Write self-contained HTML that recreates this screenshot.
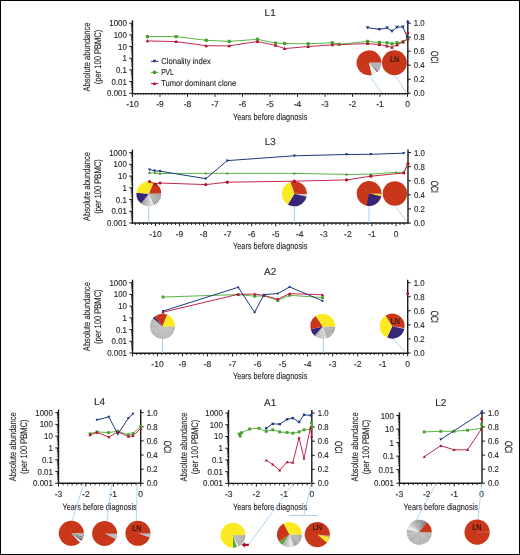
<!DOCTYPE html>
<html><head><meta charset="utf-8"><style>
html,body{margin:0;padding:0;background:#fff;}
svg{display:block;will-change:transform;}
text{font-family:"Liberation Sans",sans-serif;text-rendering:geometricPrecision;stroke:#231f20;stroke-width:0.12px;}
#frame{position:absolute;left:0;top:0;width:518px;height:553px;border:1px solid #000;pointer-events:none;}
</style></head><body>
<div style="position:relative;width:520px;height:555px;overflow:hidden;">
<svg width="520" height="555" viewBox="0 0 520 555" font-family="Liberation Sans">
<rect x="0" y="0" width="520" height="555" fill="#fff"/>
<text x="270.15" y="15.90" font-size="10" text-anchor="middle" fill="#231f20" >L1</text>
<line x1="132.50" y1="20.20" x2="132.50" y2="94.20" stroke="#1a1a1a" stroke-width="1.4" />
<line x1="129.30" y1="23.20" x2="132.50" y2="23.20" stroke="#1a1a1a" stroke-width="1.0" />
<text x="126.90" y="26.20" font-size="8.5" text-anchor="end" fill="#231f20" transform="translate(126.90 26.20) scale(0.93 1) translate(-126.90 -26.20)" >1000</text>
<line x1="130.90" y1="31.35" x2="132.50" y2="31.35" stroke="#1a1a1a" stroke-width="0.7" />
<line x1="130.90" y1="29.30" x2="132.50" y2="29.30" stroke="#1a1a1a" stroke-width="0.7" />
<line x1="130.90" y1="27.84" x2="132.50" y2="27.84" stroke="#1a1a1a" stroke-width="0.7" />
<line x1="130.90" y1="26.71" x2="132.50" y2="26.71" stroke="#1a1a1a" stroke-width="0.7" />
<line x1="130.90" y1="25.79" x2="132.50" y2="25.79" stroke="#1a1a1a" stroke-width="0.7" />
<line x1="130.90" y1="25.01" x2="132.50" y2="25.01" stroke="#1a1a1a" stroke-width="0.7" />
<line x1="130.90" y1="24.33" x2="132.50" y2="24.33" stroke="#1a1a1a" stroke-width="0.7" />
<line x1="130.90" y1="23.73" x2="132.50" y2="23.73" stroke="#1a1a1a" stroke-width="0.7" />
<line x1="129.30" y1="34.87" x2="132.50" y2="34.87" stroke="#1a1a1a" stroke-width="1.0" />
<text x="126.90" y="37.87" font-size="8.5" text-anchor="end" fill="#231f20" transform="translate(126.90 37.87) scale(0.93 1) translate(-126.90 -37.87)" >100</text>
<line x1="130.90" y1="43.02" x2="132.50" y2="43.02" stroke="#1a1a1a" stroke-width="0.7" />
<line x1="130.90" y1="40.97" x2="132.50" y2="40.97" stroke="#1a1a1a" stroke-width="0.7" />
<line x1="130.90" y1="39.51" x2="132.50" y2="39.51" stroke="#1a1a1a" stroke-width="0.7" />
<line x1="130.90" y1="38.38" x2="132.50" y2="38.38" stroke="#1a1a1a" stroke-width="0.7" />
<line x1="130.90" y1="37.45" x2="132.50" y2="37.45" stroke="#1a1a1a" stroke-width="0.7" />
<line x1="130.90" y1="36.67" x2="132.50" y2="36.67" stroke="#1a1a1a" stroke-width="0.7" />
<line x1="130.90" y1="36.00" x2="132.50" y2="36.00" stroke="#1a1a1a" stroke-width="0.7" />
<line x1="130.90" y1="35.40" x2="132.50" y2="35.40" stroke="#1a1a1a" stroke-width="0.7" />
<line x1="129.30" y1="46.53" x2="132.50" y2="46.53" stroke="#1a1a1a" stroke-width="1.0" />
<text x="126.90" y="49.53" font-size="8.5" text-anchor="end" fill="#231f20" transform="translate(126.90 49.53) scale(0.93 1) translate(-126.90 -49.53)" >10</text>
<line x1="130.90" y1="54.69" x2="132.50" y2="54.69" stroke="#1a1a1a" stroke-width="0.7" />
<line x1="130.90" y1="52.63" x2="132.50" y2="52.63" stroke="#1a1a1a" stroke-width="0.7" />
<line x1="130.90" y1="51.18" x2="132.50" y2="51.18" stroke="#1a1a1a" stroke-width="0.7" />
<line x1="130.90" y1="50.05" x2="132.50" y2="50.05" stroke="#1a1a1a" stroke-width="0.7" />
<line x1="130.90" y1="49.12" x2="132.50" y2="49.12" stroke="#1a1a1a" stroke-width="0.7" />
<line x1="130.90" y1="48.34" x2="132.50" y2="48.34" stroke="#1a1a1a" stroke-width="0.7" />
<line x1="130.90" y1="47.66" x2="132.50" y2="47.66" stroke="#1a1a1a" stroke-width="0.7" />
<line x1="130.90" y1="47.07" x2="132.50" y2="47.07" stroke="#1a1a1a" stroke-width="0.7" />
<line x1="129.30" y1="58.20" x2="132.50" y2="58.20" stroke="#1a1a1a" stroke-width="1.0" />
<text x="126.90" y="61.20" font-size="8.5" text-anchor="end" fill="#231f20" transform="translate(126.90 61.20) scale(0.93 1) translate(-126.90 -61.20)" >1</text>
<line x1="130.90" y1="66.35" x2="132.50" y2="66.35" stroke="#1a1a1a" stroke-width="0.7" />
<line x1="130.90" y1="64.30" x2="132.50" y2="64.30" stroke="#1a1a1a" stroke-width="0.7" />
<line x1="130.90" y1="62.84" x2="132.50" y2="62.84" stroke="#1a1a1a" stroke-width="0.7" />
<line x1="130.90" y1="61.71" x2="132.50" y2="61.71" stroke="#1a1a1a" stroke-width="0.7" />
<line x1="130.90" y1="60.79" x2="132.50" y2="60.79" stroke="#1a1a1a" stroke-width="0.7" />
<line x1="130.90" y1="60.01" x2="132.50" y2="60.01" stroke="#1a1a1a" stroke-width="0.7" />
<line x1="130.90" y1="59.33" x2="132.50" y2="59.33" stroke="#1a1a1a" stroke-width="0.7" />
<line x1="130.90" y1="58.73" x2="132.50" y2="58.73" stroke="#1a1a1a" stroke-width="0.7" />
<line x1="129.30" y1="69.87" x2="132.50" y2="69.87" stroke="#1a1a1a" stroke-width="1.0" />
<text x="126.90" y="72.87" font-size="8.5" text-anchor="end" fill="#231f20" transform="translate(126.90 72.87) scale(0.93 1) translate(-126.90 -72.87)" >0.1</text>
<line x1="130.90" y1="78.02" x2="132.50" y2="78.02" stroke="#1a1a1a" stroke-width="0.7" />
<line x1="130.90" y1="75.97" x2="132.50" y2="75.97" stroke="#1a1a1a" stroke-width="0.7" />
<line x1="130.90" y1="74.51" x2="132.50" y2="74.51" stroke="#1a1a1a" stroke-width="0.7" />
<line x1="130.90" y1="73.38" x2="132.50" y2="73.38" stroke="#1a1a1a" stroke-width="0.7" />
<line x1="130.90" y1="72.45" x2="132.50" y2="72.45" stroke="#1a1a1a" stroke-width="0.7" />
<line x1="130.90" y1="71.67" x2="132.50" y2="71.67" stroke="#1a1a1a" stroke-width="0.7" />
<line x1="130.90" y1="71.00" x2="132.50" y2="71.00" stroke="#1a1a1a" stroke-width="0.7" />
<line x1="130.90" y1="70.40" x2="132.50" y2="70.40" stroke="#1a1a1a" stroke-width="0.7" />
<line x1="129.30" y1="81.53" x2="132.50" y2="81.53" stroke="#1a1a1a" stroke-width="1.0" />
<text x="126.90" y="84.53" font-size="8.5" text-anchor="end" fill="#231f20" transform="translate(126.90 84.53) scale(0.93 1) translate(-126.90 -84.53)" >0.01</text>
<line x1="130.90" y1="89.69" x2="132.50" y2="89.69" stroke="#1a1a1a" stroke-width="0.7" />
<line x1="130.90" y1="87.63" x2="132.50" y2="87.63" stroke="#1a1a1a" stroke-width="0.7" />
<line x1="130.90" y1="86.18" x2="132.50" y2="86.18" stroke="#1a1a1a" stroke-width="0.7" />
<line x1="130.90" y1="85.05" x2="132.50" y2="85.05" stroke="#1a1a1a" stroke-width="0.7" />
<line x1="130.90" y1="84.12" x2="132.50" y2="84.12" stroke="#1a1a1a" stroke-width="0.7" />
<line x1="130.90" y1="83.34" x2="132.50" y2="83.34" stroke="#1a1a1a" stroke-width="0.7" />
<line x1="130.90" y1="82.66" x2="132.50" y2="82.66" stroke="#1a1a1a" stroke-width="0.7" />
<line x1="130.90" y1="82.07" x2="132.50" y2="82.07" stroke="#1a1a1a" stroke-width="0.7" />
<line x1="129.30" y1="93.20" x2="132.50" y2="93.20" stroke="#1a1a1a" stroke-width="1.0" />
<text x="126.90" y="96.20" font-size="8.5" text-anchor="end" fill="#231f20" transform="translate(126.90 96.20) scale(0.93 1) translate(-126.90 -96.20)" >0.001</text>
<text x="90.00" y="57.00" font-size="9.6" text-anchor="middle" fill="#231f20" textLength="69" lengthAdjust="spacingAndGlyphs" transform="rotate(-90 90.00 57.00)" >Absolute abundance</text>
<text x="100.70" y="57.00" font-size="9.6" text-anchor="middle" fill="#231f20" textLength="54.5" lengthAdjust="spacingAndGlyphs" transform="rotate(-90 100.70 57.00)" >(per 100 PBMC)</text>
<line x1="407.80" y1="20.20" x2="407.80" y2="94.20" stroke="#1a1a1a" stroke-width="1.4" />
<line x1="407.80" y1="93.20" x2="410.80" y2="93.20" stroke="#1a1a1a" stroke-width="1.0" />
<text x="413.80" y="96.20" font-size="8.5" text-anchor="start" fill="#231f20" transform="translate(413.80 96.20) scale(0.92 1) translate(-413.80 -96.20)" >0.0</text>
<line x1="407.80" y1="79.20" x2="410.80" y2="79.20" stroke="#1a1a1a" stroke-width="1.0" />
<text x="413.80" y="82.20" font-size="8.5" text-anchor="start" fill="#231f20" transform="translate(413.80 82.20) scale(0.92 1) translate(-413.80 -82.20)" >0.2</text>
<line x1="407.80" y1="65.20" x2="410.80" y2="65.20" stroke="#1a1a1a" stroke-width="1.0" />
<text x="413.80" y="68.20" font-size="8.5" text-anchor="start" fill="#231f20" transform="translate(413.80 68.20) scale(0.92 1) translate(-413.80 -68.20)" >0.4</text>
<line x1="407.80" y1="51.20" x2="410.80" y2="51.20" stroke="#1a1a1a" stroke-width="1.0" />
<text x="413.80" y="54.20" font-size="8.5" text-anchor="start" fill="#231f20" transform="translate(413.80 54.20) scale(0.92 1) translate(-413.80 -54.20)" >0.6</text>
<line x1="407.80" y1="37.20" x2="410.80" y2="37.20" stroke="#1a1a1a" stroke-width="1.0" />
<text x="413.80" y="40.20" font-size="8.5" text-anchor="start" fill="#231f20" transform="translate(413.80 40.20) scale(0.92 1) translate(-413.80 -40.20)" >0.8</text>
<line x1="407.80" y1="23.20" x2="410.80" y2="23.20" stroke="#1a1a1a" stroke-width="1.0" />
<text x="413.80" y="26.20" font-size="8.5" text-anchor="start" fill="#231f20" transform="translate(413.80 26.20) scale(0.92 1) translate(-413.80 -26.20)" >1.0</text>
<text x="430.80" y="57.20" font-size="10.6" text-anchor="middle" fill="#231f20" textLength="12.3" lengthAdjust="spacingAndGlyphs" transform="rotate(90 430.80 57.20)" >OCI</text>
<line x1="131.80" y1="93.60" x2="408.50" y2="93.60" stroke="#1a1a1a" stroke-width="1.4" />
<line x1="132.50" y1="93.60" x2="132.50" y2="96.80" stroke="#1a1a1a" stroke-width="1.0" />
<text x="132.50" y="106.90" font-size="8.5" text-anchor="middle" fill="#231f20" >-10</text>
<line x1="160.00" y1="93.60" x2="160.00" y2="96.80" stroke="#1a1a1a" stroke-width="1.0" />
<text x="160.00" y="106.90" font-size="8.5" text-anchor="middle" fill="#231f20" >-9</text>
<line x1="187.50" y1="93.60" x2="187.50" y2="96.80" stroke="#1a1a1a" stroke-width="1.0" />
<text x="187.50" y="106.90" font-size="8.5" text-anchor="middle" fill="#231f20" >-8</text>
<line x1="215.00" y1="93.60" x2="215.00" y2="96.80" stroke="#1a1a1a" stroke-width="1.0" />
<text x="215.00" y="106.90" font-size="8.5" text-anchor="middle" fill="#231f20" >-7</text>
<line x1="242.50" y1="93.60" x2="242.50" y2="96.80" stroke="#1a1a1a" stroke-width="1.0" />
<text x="242.50" y="106.90" font-size="8.5" text-anchor="middle" fill="#231f20" >-6</text>
<line x1="270.00" y1="93.60" x2="270.00" y2="96.80" stroke="#1a1a1a" stroke-width="1.0" />
<text x="270.00" y="106.90" font-size="8.5" text-anchor="middle" fill="#231f20" >-5</text>
<line x1="297.50" y1="93.60" x2="297.50" y2="96.80" stroke="#1a1a1a" stroke-width="1.0" />
<text x="297.50" y="106.90" font-size="8.5" text-anchor="middle" fill="#231f20" >-4</text>
<line x1="325.00" y1="93.60" x2="325.00" y2="96.80" stroke="#1a1a1a" stroke-width="1.0" />
<text x="325.00" y="106.90" font-size="8.5" text-anchor="middle" fill="#231f20" >-3</text>
<line x1="352.50" y1="93.60" x2="352.50" y2="96.80" stroke="#1a1a1a" stroke-width="1.0" />
<text x="352.50" y="106.90" font-size="8.5" text-anchor="middle" fill="#231f20" >-2</text>
<line x1="380.00" y1="93.60" x2="380.00" y2="96.80" stroke="#1a1a1a" stroke-width="1.0" />
<text x="380.00" y="106.90" font-size="8.5" text-anchor="middle" fill="#231f20" >-1</text>
<line x1="407.50" y1="93.60" x2="407.50" y2="96.80" stroke="#1a1a1a" stroke-width="1.0" />
<text x="407.50" y="106.90" font-size="8.5" text-anchor="middle" fill="#231f20" >0</text>
<line x1="135.25" y1="93.60" x2="135.25" y2="95.10" stroke="#1a1a1a" stroke-width="0.7" />
<line x1="138.00" y1="93.60" x2="138.00" y2="95.10" stroke="#1a1a1a" stroke-width="0.7" />
<line x1="140.75" y1="93.60" x2="140.75" y2="95.10" stroke="#1a1a1a" stroke-width="0.7" />
<line x1="143.50" y1="93.60" x2="143.50" y2="95.10" stroke="#1a1a1a" stroke-width="0.7" />
<line x1="146.25" y1="93.60" x2="146.25" y2="95.10" stroke="#1a1a1a" stroke-width="0.7" />
<line x1="149.00" y1="93.60" x2="149.00" y2="95.10" stroke="#1a1a1a" stroke-width="0.7" />
<line x1="151.75" y1="93.60" x2="151.75" y2="95.10" stroke="#1a1a1a" stroke-width="0.7" />
<line x1="154.50" y1="93.60" x2="154.50" y2="95.10" stroke="#1a1a1a" stroke-width="0.7" />
<line x1="157.25" y1="93.60" x2="157.25" y2="95.10" stroke="#1a1a1a" stroke-width="0.7" />
<line x1="162.75" y1="93.60" x2="162.75" y2="95.10" stroke="#1a1a1a" stroke-width="0.7" />
<line x1="165.50" y1="93.60" x2="165.50" y2="95.10" stroke="#1a1a1a" stroke-width="0.7" />
<line x1="168.25" y1="93.60" x2="168.25" y2="95.10" stroke="#1a1a1a" stroke-width="0.7" />
<line x1="171.00" y1="93.60" x2="171.00" y2="95.10" stroke="#1a1a1a" stroke-width="0.7" />
<line x1="173.75" y1="93.60" x2="173.75" y2="95.10" stroke="#1a1a1a" stroke-width="0.7" />
<line x1="176.50" y1="93.60" x2="176.50" y2="95.10" stroke="#1a1a1a" stroke-width="0.7" />
<line x1="179.25" y1="93.60" x2="179.25" y2="95.10" stroke="#1a1a1a" stroke-width="0.7" />
<line x1="182.00" y1="93.60" x2="182.00" y2="95.10" stroke="#1a1a1a" stroke-width="0.7" />
<line x1="184.75" y1="93.60" x2="184.75" y2="95.10" stroke="#1a1a1a" stroke-width="0.7" />
<line x1="190.25" y1="93.60" x2="190.25" y2="95.10" stroke="#1a1a1a" stroke-width="0.7" />
<line x1="193.00" y1="93.60" x2="193.00" y2="95.10" stroke="#1a1a1a" stroke-width="0.7" />
<line x1="195.75" y1="93.60" x2="195.75" y2="95.10" stroke="#1a1a1a" stroke-width="0.7" />
<line x1="198.50" y1="93.60" x2="198.50" y2="95.10" stroke="#1a1a1a" stroke-width="0.7" />
<line x1="201.25" y1="93.60" x2="201.25" y2="95.10" stroke="#1a1a1a" stroke-width="0.7" />
<line x1="204.00" y1="93.60" x2="204.00" y2="95.10" stroke="#1a1a1a" stroke-width="0.7" />
<line x1="206.75" y1="93.60" x2="206.75" y2="95.10" stroke="#1a1a1a" stroke-width="0.7" />
<line x1="209.50" y1="93.60" x2="209.50" y2="95.10" stroke="#1a1a1a" stroke-width="0.7" />
<line x1="212.25" y1="93.60" x2="212.25" y2="95.10" stroke="#1a1a1a" stroke-width="0.7" />
<line x1="217.75" y1="93.60" x2="217.75" y2="95.10" stroke="#1a1a1a" stroke-width="0.7" />
<line x1="220.50" y1="93.60" x2="220.50" y2="95.10" stroke="#1a1a1a" stroke-width="0.7" />
<line x1="223.25" y1="93.60" x2="223.25" y2="95.10" stroke="#1a1a1a" stroke-width="0.7" />
<line x1="226.00" y1="93.60" x2="226.00" y2="95.10" stroke="#1a1a1a" stroke-width="0.7" />
<line x1="228.75" y1="93.60" x2="228.75" y2="95.10" stroke="#1a1a1a" stroke-width="0.7" />
<line x1="231.50" y1="93.60" x2="231.50" y2="95.10" stroke="#1a1a1a" stroke-width="0.7" />
<line x1="234.25" y1="93.60" x2="234.25" y2="95.10" stroke="#1a1a1a" stroke-width="0.7" />
<line x1="237.00" y1="93.60" x2="237.00" y2="95.10" stroke="#1a1a1a" stroke-width="0.7" />
<line x1="239.75" y1="93.60" x2="239.75" y2="95.10" stroke="#1a1a1a" stroke-width="0.7" />
<line x1="245.25" y1="93.60" x2="245.25" y2="95.10" stroke="#1a1a1a" stroke-width="0.7" />
<line x1="248.00" y1="93.60" x2="248.00" y2="95.10" stroke="#1a1a1a" stroke-width="0.7" />
<line x1="250.75" y1="93.60" x2="250.75" y2="95.10" stroke="#1a1a1a" stroke-width="0.7" />
<line x1="253.50" y1="93.60" x2="253.50" y2="95.10" stroke="#1a1a1a" stroke-width="0.7" />
<line x1="256.25" y1="93.60" x2="256.25" y2="95.10" stroke="#1a1a1a" stroke-width="0.7" />
<line x1="259.00" y1="93.60" x2="259.00" y2="95.10" stroke="#1a1a1a" stroke-width="0.7" />
<line x1="261.75" y1="93.60" x2="261.75" y2="95.10" stroke="#1a1a1a" stroke-width="0.7" />
<line x1="264.50" y1="93.60" x2="264.50" y2="95.10" stroke="#1a1a1a" stroke-width="0.7" />
<line x1="267.25" y1="93.60" x2="267.25" y2="95.10" stroke="#1a1a1a" stroke-width="0.7" />
<line x1="272.75" y1="93.60" x2="272.75" y2="95.10" stroke="#1a1a1a" stroke-width="0.7" />
<line x1="275.50" y1="93.60" x2="275.50" y2="95.10" stroke="#1a1a1a" stroke-width="0.7" />
<line x1="278.25" y1="93.60" x2="278.25" y2="95.10" stroke="#1a1a1a" stroke-width="0.7" />
<line x1="281.00" y1="93.60" x2="281.00" y2="95.10" stroke="#1a1a1a" stroke-width="0.7" />
<line x1="283.75" y1="93.60" x2="283.75" y2="95.10" stroke="#1a1a1a" stroke-width="0.7" />
<line x1="286.50" y1="93.60" x2="286.50" y2="95.10" stroke="#1a1a1a" stroke-width="0.7" />
<line x1="289.25" y1="93.60" x2="289.25" y2="95.10" stroke="#1a1a1a" stroke-width="0.7" />
<line x1="292.00" y1="93.60" x2="292.00" y2="95.10" stroke="#1a1a1a" stroke-width="0.7" />
<line x1="294.75" y1="93.60" x2="294.75" y2="95.10" stroke="#1a1a1a" stroke-width="0.7" />
<line x1="300.25" y1="93.60" x2="300.25" y2="95.10" stroke="#1a1a1a" stroke-width="0.7" />
<line x1="303.00" y1="93.60" x2="303.00" y2="95.10" stroke="#1a1a1a" stroke-width="0.7" />
<line x1="305.75" y1="93.60" x2="305.75" y2="95.10" stroke="#1a1a1a" stroke-width="0.7" />
<line x1="308.50" y1="93.60" x2="308.50" y2="95.10" stroke="#1a1a1a" stroke-width="0.7" />
<line x1="311.25" y1="93.60" x2="311.25" y2="95.10" stroke="#1a1a1a" stroke-width="0.7" />
<line x1="314.00" y1="93.60" x2="314.00" y2="95.10" stroke="#1a1a1a" stroke-width="0.7" />
<line x1="316.75" y1="93.60" x2="316.75" y2="95.10" stroke="#1a1a1a" stroke-width="0.7" />
<line x1="319.50" y1="93.60" x2="319.50" y2="95.10" stroke="#1a1a1a" stroke-width="0.7" />
<line x1="322.25" y1="93.60" x2="322.25" y2="95.10" stroke="#1a1a1a" stroke-width="0.7" />
<line x1="327.75" y1="93.60" x2="327.75" y2="95.10" stroke="#1a1a1a" stroke-width="0.7" />
<line x1="330.50" y1="93.60" x2="330.50" y2="95.10" stroke="#1a1a1a" stroke-width="0.7" />
<line x1="333.25" y1="93.60" x2="333.25" y2="95.10" stroke="#1a1a1a" stroke-width="0.7" />
<line x1="336.00" y1="93.60" x2="336.00" y2="95.10" stroke="#1a1a1a" stroke-width="0.7" />
<line x1="338.75" y1="93.60" x2="338.75" y2="95.10" stroke="#1a1a1a" stroke-width="0.7" />
<line x1="341.50" y1="93.60" x2="341.50" y2="95.10" stroke="#1a1a1a" stroke-width="0.7" />
<line x1="344.25" y1="93.60" x2="344.25" y2="95.10" stroke="#1a1a1a" stroke-width="0.7" />
<line x1="347.00" y1="93.60" x2="347.00" y2="95.10" stroke="#1a1a1a" stroke-width="0.7" />
<line x1="349.75" y1="93.60" x2="349.75" y2="95.10" stroke="#1a1a1a" stroke-width="0.7" />
<line x1="355.25" y1="93.60" x2="355.25" y2="95.10" stroke="#1a1a1a" stroke-width="0.7" />
<line x1="358.00" y1="93.60" x2="358.00" y2="95.10" stroke="#1a1a1a" stroke-width="0.7" />
<line x1="360.75" y1="93.60" x2="360.75" y2="95.10" stroke="#1a1a1a" stroke-width="0.7" />
<line x1="363.50" y1="93.60" x2="363.50" y2="95.10" stroke="#1a1a1a" stroke-width="0.7" />
<line x1="366.25" y1="93.60" x2="366.25" y2="95.10" stroke="#1a1a1a" stroke-width="0.7" />
<line x1="369.00" y1="93.60" x2="369.00" y2="95.10" stroke="#1a1a1a" stroke-width="0.7" />
<line x1="371.75" y1="93.60" x2="371.75" y2="95.10" stroke="#1a1a1a" stroke-width="0.7" />
<line x1="374.50" y1="93.60" x2="374.50" y2="95.10" stroke="#1a1a1a" stroke-width="0.7" />
<line x1="377.25" y1="93.60" x2="377.25" y2="95.10" stroke="#1a1a1a" stroke-width="0.7" />
<line x1="382.75" y1="93.60" x2="382.75" y2="95.10" stroke="#1a1a1a" stroke-width="0.7" />
<line x1="385.50" y1="93.60" x2="385.50" y2="95.10" stroke="#1a1a1a" stroke-width="0.7" />
<line x1="388.25" y1="93.60" x2="388.25" y2="95.10" stroke="#1a1a1a" stroke-width="0.7" />
<line x1="391.00" y1="93.60" x2="391.00" y2="95.10" stroke="#1a1a1a" stroke-width="0.7" />
<line x1="393.75" y1="93.60" x2="393.75" y2="95.10" stroke="#1a1a1a" stroke-width="0.7" />
<line x1="396.50" y1="93.60" x2="396.50" y2="95.10" stroke="#1a1a1a" stroke-width="0.7" />
<line x1="399.25" y1="93.60" x2="399.25" y2="95.10" stroke="#1a1a1a" stroke-width="0.7" />
<line x1="402.00" y1="93.60" x2="402.00" y2="95.10" stroke="#1a1a1a" stroke-width="0.7" />
<line x1="404.75" y1="93.60" x2="404.75" y2="95.10" stroke="#1a1a1a" stroke-width="0.7" />
<text x="270.15" y="119.60" font-size="9.2" text-anchor="middle" fill="#231f20" textLength="74.3" lengthAdjust="spacingAndGlyphs" >Years before diagnosis</text>
<line x1="150.90" y1="61.30" x2="158.40" y2="61.30" stroke="#1c3a7e" stroke-width="1.0" />
<path d="M154.50,63.10L156.30,59.86L152.70,59.86Z" fill="#1c3a7e"/>
<text x="161.20" y="64.20" font-size="8.6" text-anchor="start" fill="#231f20" textLength="49.7" lengthAdjust="spacingAndGlyphs" >Clonality index</text>
<line x1="150.90" y1="72.40" x2="158.40" y2="72.40" stroke="#5cb546" stroke-width="1.0" />
<rect x="152.90" y="70.80" width="3.20" height="3.20" fill="#4aa02e"/>
<text x="161.20" y="75.30" font-size="8.6" text-anchor="start" fill="#231f20" textLength="12.5" lengthAdjust="spacingAndGlyphs" >PVL</text>
<line x1="150.90" y1="83.50" x2="158.40" y2="83.50" stroke="#c4284f" stroke-width="1.0" />
<path d="M154.50,81.70L156.30,84.94L152.70,84.94Z" fill="#b0102c"/>
<text x="161.20" y="86.40" font-size="8.6" text-anchor="start" fill="#231f20" textLength="75" lengthAdjust="spacingAndGlyphs" >Tumor dominant clone</text>
<line x1="369.00" y1="75.20" x2="381.70" y2="92.90" stroke="#9ccbef" stroke-width="0.8" />
<line x1="395.00" y1="75.20" x2="406.30" y2="92.90" stroke="#9ccbef" stroke-width="0.8" />
<path d="M369.00,62.80L372.01,74.88A12.45,12.45 0 1 1 381.45,62.80Z" fill="#c83719"/>
<path d="M369.00,62.80L381.45,62.80A12.45,12.45 0 0 1 377.80,71.60Z" fill="#b4b4b4"/>
<path d="M369.00,62.80L377.80,71.60A12.45,12.45 0 0 1 377.00,72.34Z" fill="#3a3a3a"/>
<path d="M369.00,62.80L377.00,72.34A12.45,12.45 0 0 1 372.01,74.88Z" fill="#ececec"/>
<circle cx="394.40" cy="62.80" r="12.45" fill="#c83719"/>
<text x="394.60" y="61.80" font-size="8.4" text-anchor="middle" fill="#1a0a05" transform="translate(394.60 61.80) scale(0.86 1) translate(-394.60 -61.80)" >LN</text>
<polyline points="147.40,36.60 176.10,36.60 206.20,40.30 229.20,41.40 257.40,39.30 275.60,43.10 284.60,43.50 308.20,43.80 332.30,42.80 339.20,44.30 367.60,41.40 379.40,42.50 387.00,42.80 392.00,43.80 397.00,42.80 403.00,41.80 407.80,38.80" fill="none" stroke="#5cb546" stroke-width="1.0" stroke-linejoin="round"/>
<rect x="145.80" y="35.00" width="3.20" height="3.20" fill="#4aa02e"/>
<rect x="174.50" y="35.00" width="3.20" height="3.20" fill="#4aa02e"/>
<rect x="204.60" y="38.70" width="3.20" height="3.20" fill="#4aa02e"/>
<rect x="227.60" y="39.80" width="3.20" height="3.20" fill="#4aa02e"/>
<rect x="255.80" y="37.70" width="3.20" height="3.20" fill="#4aa02e"/>
<rect x="274.00" y="41.50" width="3.20" height="3.20" fill="#4aa02e"/>
<rect x="283.00" y="41.90" width="3.20" height="3.20" fill="#4aa02e"/>
<rect x="306.60" y="42.20" width="3.20" height="3.20" fill="#4aa02e"/>
<rect x="330.70" y="41.20" width="3.20" height="3.20" fill="#4aa02e"/>
<rect x="337.60" y="42.70" width="3.20" height="3.20" fill="#4aa02e"/>
<rect x="366.00" y="39.80" width="3.20" height="3.20" fill="#4aa02e"/>
<rect x="377.80" y="40.90" width="3.20" height="3.20" fill="#4aa02e"/>
<rect x="385.40" y="41.20" width="3.20" height="3.20" fill="#4aa02e"/>
<rect x="390.40" y="42.20" width="3.20" height="3.20" fill="#4aa02e"/>
<rect x="395.40" y="41.20" width="3.20" height="3.20" fill="#4aa02e"/>
<rect x="401.40" y="40.20" width="3.20" height="3.20" fill="#4aa02e"/>
<rect x="406.20" y="37.20" width="3.20" height="3.20" fill="#4aa02e"/>
<polyline points="147.40,40.90 176.10,41.60 206.20,45.70 229.20,45.90 257.40,41.50 275.60,45.40 284.60,48.60 308.20,46.50 332.30,44.90 367.60,43.60 379.40,44.50 387.00,46.00 392.00,47.30 397.00,44.80 403.00,41.80 407.80,38.80" fill="none" stroke="#c4284f" stroke-width="1.0" stroke-linejoin="round"/>
<path d="M147.40,39.10L149.20,42.34L145.60,42.34Z" fill="#b0102c"/>
<path d="M176.10,39.80L177.90,43.04L174.30,43.04Z" fill="#b0102c"/>
<path d="M206.20,43.90L208.00,47.14L204.40,47.14Z" fill="#b0102c"/>
<path d="M229.20,44.10L231.00,47.34L227.40,47.34Z" fill="#b0102c"/>
<path d="M257.40,39.70L259.20,42.94L255.60,42.94Z" fill="#b0102c"/>
<path d="M275.60,43.60L277.40,46.84L273.80,46.84Z" fill="#b0102c"/>
<path d="M284.60,46.80L286.40,50.04L282.80,50.04Z" fill="#b0102c"/>
<path d="M308.20,44.70L310.00,47.94L306.40,47.94Z" fill="#b0102c"/>
<path d="M332.30,43.10L334.10,46.34L330.50,46.34Z" fill="#b0102c"/>
<path d="M367.60,41.80L369.40,45.04L365.80,45.04Z" fill="#b0102c"/>
<path d="M379.40,42.70L381.20,45.94L377.60,45.94Z" fill="#b0102c"/>
<path d="M387.00,44.20L388.80,47.44L385.20,47.44Z" fill="#b0102c"/>
<path d="M392.00,45.50L393.80,48.74L390.20,48.74Z" fill="#b0102c"/>
<path d="M397.00,43.00L398.80,46.24L395.20,46.24Z" fill="#b0102c"/>
<path d="M403.00,40.00L404.80,43.24L401.20,43.24Z" fill="#b0102c"/>
<path d="M407.80,37.00L409.60,40.24L406.00,40.24Z" fill="#b0102c"/>
<circle cx="407.80" cy="33.00" r="1.44" fill="#b0102c"/>
<polyline points="367.60,27.70 379.30,29.40 387.10,27.90 392.00,31.20 397.00,27.20 402.90,26.90 407.30,37.40" fill="none" stroke="#1c3a7e" stroke-width="1.0" stroke-linejoin="round"/>
<path d="M367.60,29.50L369.40,26.26L365.80,26.26Z" fill="#1c3a7e"/>
<path d="M379.30,31.20L381.10,27.96L377.50,27.96Z" fill="#1c3a7e"/>
<path d="M387.10,29.70L388.90,26.46L385.30,26.46Z" fill="#1c3a7e"/>
<path d="M392.00,33.00L393.80,29.76L390.20,29.76Z" fill="#1c3a7e"/>
<path d="M397.00,29.00L398.80,25.76L395.20,25.76Z" fill="#1c3a7e"/>
<path d="M402.90,28.70L404.70,25.46L401.10,25.46Z" fill="#1c3a7e"/>
<path d="M407.30,39.20L409.10,35.96L405.50,35.96Z" fill="#1c3a7e"/>
<path d="M407.80,24.40L409.60,21.16L406.00,21.16Z" fill="#1c3a7e"/>
<text x="270.20" y="145.30" font-size="10" text-anchor="middle" fill="#231f20" >L3</text>
<line x1="132.40" y1="149.60" x2="132.40" y2="223.60" stroke="#1a1a1a" stroke-width="1.4" />
<line x1="129.20" y1="152.60" x2="132.40" y2="152.60" stroke="#1a1a1a" stroke-width="1.0" />
<text x="126.80" y="155.60" font-size="8.5" text-anchor="end" fill="#231f20" transform="translate(126.80 155.60) scale(0.93 1) translate(-126.80 -155.60)" >1000</text>
<line x1="130.80" y1="160.80" x2="132.40" y2="160.80" stroke="#1a1a1a" stroke-width="0.7" />
<line x1="130.80" y1="158.74" x2="132.40" y2="158.74" stroke="#1a1a1a" stroke-width="0.7" />
<line x1="130.80" y1="157.27" x2="132.40" y2="157.27" stroke="#1a1a1a" stroke-width="0.7" />
<line x1="130.80" y1="156.13" x2="132.40" y2="156.13" stroke="#1a1a1a" stroke-width="0.7" />
<line x1="130.80" y1="155.20" x2="132.40" y2="155.20" stroke="#1a1a1a" stroke-width="0.7" />
<line x1="130.80" y1="154.42" x2="132.40" y2="154.42" stroke="#1a1a1a" stroke-width="0.7" />
<line x1="130.80" y1="153.74" x2="132.40" y2="153.74" stroke="#1a1a1a" stroke-width="0.7" />
<line x1="130.80" y1="153.14" x2="132.40" y2="153.14" stroke="#1a1a1a" stroke-width="0.7" />
<line x1="129.20" y1="164.33" x2="132.40" y2="164.33" stroke="#1a1a1a" stroke-width="1.0" />
<text x="126.80" y="167.33" font-size="8.5" text-anchor="end" fill="#231f20" transform="translate(126.80 167.33) scale(0.93 1) translate(-126.80 -167.33)" >100</text>
<line x1="130.80" y1="172.53" x2="132.40" y2="172.53" stroke="#1a1a1a" stroke-width="0.7" />
<line x1="130.80" y1="170.47" x2="132.40" y2="170.47" stroke="#1a1a1a" stroke-width="0.7" />
<line x1="130.80" y1="169.00" x2="132.40" y2="169.00" stroke="#1a1a1a" stroke-width="0.7" />
<line x1="130.80" y1="167.87" x2="132.40" y2="167.87" stroke="#1a1a1a" stroke-width="0.7" />
<line x1="130.80" y1="166.94" x2="132.40" y2="166.94" stroke="#1a1a1a" stroke-width="0.7" />
<line x1="130.80" y1="166.15" x2="132.40" y2="166.15" stroke="#1a1a1a" stroke-width="0.7" />
<line x1="130.80" y1="165.47" x2="132.40" y2="165.47" stroke="#1a1a1a" stroke-width="0.7" />
<line x1="130.80" y1="164.87" x2="132.40" y2="164.87" stroke="#1a1a1a" stroke-width="0.7" />
<line x1="129.20" y1="176.07" x2="132.40" y2="176.07" stroke="#1a1a1a" stroke-width="1.0" />
<text x="126.80" y="179.07" font-size="8.5" text-anchor="end" fill="#231f20" transform="translate(126.80 179.07) scale(0.93 1) translate(-126.80 -179.07)" >10</text>
<line x1="130.80" y1="184.27" x2="132.40" y2="184.27" stroke="#1a1a1a" stroke-width="0.7" />
<line x1="130.80" y1="182.20" x2="132.40" y2="182.20" stroke="#1a1a1a" stroke-width="0.7" />
<line x1="130.80" y1="180.74" x2="132.40" y2="180.74" stroke="#1a1a1a" stroke-width="0.7" />
<line x1="130.80" y1="179.60" x2="132.40" y2="179.60" stroke="#1a1a1a" stroke-width="0.7" />
<line x1="130.80" y1="178.67" x2="132.40" y2="178.67" stroke="#1a1a1a" stroke-width="0.7" />
<line x1="130.80" y1="177.88" x2="132.40" y2="177.88" stroke="#1a1a1a" stroke-width="0.7" />
<line x1="130.80" y1="177.20" x2="132.40" y2="177.20" stroke="#1a1a1a" stroke-width="0.7" />
<line x1="130.80" y1="176.60" x2="132.40" y2="176.60" stroke="#1a1a1a" stroke-width="0.7" />
<line x1="129.20" y1="187.80" x2="132.40" y2="187.80" stroke="#1a1a1a" stroke-width="1.0" />
<text x="126.80" y="190.80" font-size="8.5" text-anchor="end" fill="#231f20" transform="translate(126.80 190.80) scale(0.93 1) translate(-126.80 -190.80)" >1</text>
<line x1="130.80" y1="196.00" x2="132.40" y2="196.00" stroke="#1a1a1a" stroke-width="0.7" />
<line x1="130.80" y1="193.94" x2="132.40" y2="193.94" stroke="#1a1a1a" stroke-width="0.7" />
<line x1="130.80" y1="192.47" x2="132.40" y2="192.47" stroke="#1a1a1a" stroke-width="0.7" />
<line x1="130.80" y1="191.33" x2="132.40" y2="191.33" stroke="#1a1a1a" stroke-width="0.7" />
<line x1="130.80" y1="190.40" x2="132.40" y2="190.40" stroke="#1a1a1a" stroke-width="0.7" />
<line x1="130.80" y1="189.62" x2="132.40" y2="189.62" stroke="#1a1a1a" stroke-width="0.7" />
<line x1="130.80" y1="188.94" x2="132.40" y2="188.94" stroke="#1a1a1a" stroke-width="0.7" />
<line x1="130.80" y1="188.34" x2="132.40" y2="188.34" stroke="#1a1a1a" stroke-width="0.7" />
<line x1="129.20" y1="199.53" x2="132.40" y2="199.53" stroke="#1a1a1a" stroke-width="1.0" />
<text x="126.80" y="202.53" font-size="8.5" text-anchor="end" fill="#231f20" transform="translate(126.80 202.53) scale(0.93 1) translate(-126.80 -202.53)" >0.1</text>
<line x1="130.80" y1="207.73" x2="132.40" y2="207.73" stroke="#1a1a1a" stroke-width="0.7" />
<line x1="130.80" y1="205.67" x2="132.40" y2="205.67" stroke="#1a1a1a" stroke-width="0.7" />
<line x1="130.80" y1="204.20" x2="132.40" y2="204.20" stroke="#1a1a1a" stroke-width="0.7" />
<line x1="130.80" y1="203.07" x2="132.40" y2="203.07" stroke="#1a1a1a" stroke-width="0.7" />
<line x1="130.80" y1="202.14" x2="132.40" y2="202.14" stroke="#1a1a1a" stroke-width="0.7" />
<line x1="130.80" y1="201.35" x2="132.40" y2="201.35" stroke="#1a1a1a" stroke-width="0.7" />
<line x1="130.80" y1="200.67" x2="132.40" y2="200.67" stroke="#1a1a1a" stroke-width="0.7" />
<line x1="130.80" y1="200.07" x2="132.40" y2="200.07" stroke="#1a1a1a" stroke-width="0.7" />
<line x1="129.20" y1="211.27" x2="132.40" y2="211.27" stroke="#1a1a1a" stroke-width="1.0" />
<text x="126.80" y="214.27" font-size="8.5" text-anchor="end" fill="#231f20" transform="translate(126.80 214.27) scale(0.93 1) translate(-126.80 -214.27)" >0.01</text>
<line x1="130.80" y1="219.47" x2="132.40" y2="219.47" stroke="#1a1a1a" stroke-width="0.7" />
<line x1="130.80" y1="217.40" x2="132.40" y2="217.40" stroke="#1a1a1a" stroke-width="0.7" />
<line x1="130.80" y1="215.94" x2="132.40" y2="215.94" stroke="#1a1a1a" stroke-width="0.7" />
<line x1="130.80" y1="214.80" x2="132.40" y2="214.80" stroke="#1a1a1a" stroke-width="0.7" />
<line x1="130.80" y1="213.87" x2="132.40" y2="213.87" stroke="#1a1a1a" stroke-width="0.7" />
<line x1="130.80" y1="213.08" x2="132.40" y2="213.08" stroke="#1a1a1a" stroke-width="0.7" />
<line x1="130.80" y1="212.40" x2="132.40" y2="212.40" stroke="#1a1a1a" stroke-width="0.7" />
<line x1="130.80" y1="211.80" x2="132.40" y2="211.80" stroke="#1a1a1a" stroke-width="0.7" />
<line x1="129.20" y1="223.00" x2="132.40" y2="223.00" stroke="#1a1a1a" stroke-width="1.0" />
<text x="126.80" y="226.00" font-size="8.5" text-anchor="end" fill="#231f20" transform="translate(126.80 226.00) scale(0.93 1) translate(-126.80 -226.00)" >0.001</text>
<text x="89.90" y="186.60" font-size="9.6" text-anchor="middle" fill="#231f20" textLength="69" lengthAdjust="spacingAndGlyphs" transform="rotate(-90 89.90 186.60)" >Absolute abundance</text>
<text x="100.60" y="186.60" font-size="9.6" text-anchor="middle" fill="#231f20" textLength="54.5" lengthAdjust="spacingAndGlyphs" transform="rotate(-90 100.60 186.60)" >(per 100 PBMC)</text>
<line x1="408.00" y1="149.60" x2="408.00" y2="223.60" stroke="#1a1a1a" stroke-width="1.4" />
<line x1="408.00" y1="223.00" x2="411.00" y2="223.00" stroke="#1a1a1a" stroke-width="1.0" />
<text x="414.00" y="226.00" font-size="8.5" text-anchor="start" fill="#231f20" transform="translate(414.00 226.00) scale(0.92 1) translate(-414.00 -226.00)" >0.0</text>
<line x1="408.00" y1="208.92" x2="411.00" y2="208.92" stroke="#1a1a1a" stroke-width="1.0" />
<text x="414.00" y="211.92" font-size="8.5" text-anchor="start" fill="#231f20" transform="translate(414.00 211.92) scale(0.92 1) translate(-414.00 -211.92)" >0.2</text>
<line x1="408.00" y1="194.84" x2="411.00" y2="194.84" stroke="#1a1a1a" stroke-width="1.0" />
<text x="414.00" y="197.84" font-size="8.5" text-anchor="start" fill="#231f20" transform="translate(414.00 197.84) scale(0.92 1) translate(-414.00 -197.84)" >0.4</text>
<line x1="408.00" y1="180.76" x2="411.00" y2="180.76" stroke="#1a1a1a" stroke-width="1.0" />
<text x="414.00" y="183.76" font-size="8.5" text-anchor="start" fill="#231f20" transform="translate(414.00 183.76) scale(0.92 1) translate(-414.00 -183.76)" >0.6</text>
<line x1="408.00" y1="166.68" x2="411.00" y2="166.68" stroke="#1a1a1a" stroke-width="1.0" />
<text x="414.00" y="169.68" font-size="8.5" text-anchor="start" fill="#231f20" transform="translate(414.00 169.68) scale(0.92 1) translate(-414.00 -169.68)" >0.8</text>
<line x1="408.00" y1="152.60" x2="411.00" y2="152.60" stroke="#1a1a1a" stroke-width="1.0" />
<text x="414.00" y="155.60" font-size="8.5" text-anchor="start" fill="#231f20" transform="translate(414.00 155.60) scale(0.92 1) translate(-414.00 -155.60)" >1.0</text>
<text x="431.00" y="186.80" font-size="10.6" text-anchor="middle" fill="#231f20" textLength="12.3" lengthAdjust="spacingAndGlyphs" transform="rotate(90 431.00 186.80)" >OCI</text>
<line x1="131.70" y1="223.00" x2="408.70" y2="223.00" stroke="#1a1a1a" stroke-width="1.4" />
<line x1="155.50" y1="223.00" x2="155.50" y2="226.20" stroke="#1a1a1a" stroke-width="1.0" />
<text x="155.50" y="236.70" font-size="8.5" text-anchor="middle" fill="#231f20" >-10</text>
<line x1="179.55" y1="223.00" x2="179.55" y2="226.20" stroke="#1a1a1a" stroke-width="1.0" />
<text x="179.55" y="236.70" font-size="8.5" text-anchor="middle" fill="#231f20" >-9</text>
<line x1="203.60" y1="223.00" x2="203.60" y2="226.20" stroke="#1a1a1a" stroke-width="1.0" />
<text x="203.60" y="236.70" font-size="8.5" text-anchor="middle" fill="#231f20" >-8</text>
<line x1="227.65" y1="223.00" x2="227.65" y2="226.20" stroke="#1a1a1a" stroke-width="1.0" />
<text x="227.65" y="236.70" font-size="8.5" text-anchor="middle" fill="#231f20" >-7</text>
<line x1="251.70" y1="223.00" x2="251.70" y2="226.20" stroke="#1a1a1a" stroke-width="1.0" />
<text x="251.70" y="236.70" font-size="8.5" text-anchor="middle" fill="#231f20" >-6</text>
<line x1="275.75" y1="223.00" x2="275.75" y2="226.20" stroke="#1a1a1a" stroke-width="1.0" />
<text x="275.75" y="236.70" font-size="8.5" text-anchor="middle" fill="#231f20" >-5</text>
<line x1="299.80" y1="223.00" x2="299.80" y2="226.20" stroke="#1a1a1a" stroke-width="1.0" />
<text x="299.80" y="236.70" font-size="8.5" text-anchor="middle" fill="#231f20" >-4</text>
<line x1="323.85" y1="223.00" x2="323.85" y2="226.20" stroke="#1a1a1a" stroke-width="1.0" />
<text x="323.85" y="236.70" font-size="8.5" text-anchor="middle" fill="#231f20" >-3</text>
<line x1="347.90" y1="223.00" x2="347.90" y2="226.20" stroke="#1a1a1a" stroke-width="1.0" />
<text x="347.90" y="236.70" font-size="8.5" text-anchor="middle" fill="#231f20" >-2</text>
<line x1="371.95" y1="223.00" x2="371.95" y2="226.20" stroke="#1a1a1a" stroke-width="1.0" />
<text x="371.95" y="236.70" font-size="8.5" text-anchor="middle" fill="#231f20" >-1</text>
<line x1="396.00" y1="223.00" x2="396.00" y2="226.20" stroke="#1a1a1a" stroke-width="1.0" />
<text x="396.00" y="236.70" font-size="8.5" text-anchor="middle" fill="#231f20" >0</text>
<line x1="135.46" y1="223.00" x2="135.46" y2="225.00" stroke="#1a1a1a" stroke-width="0.9" />
<line x1="139.47" y1="223.00" x2="139.47" y2="225.00" stroke="#1a1a1a" stroke-width="0.9" />
<line x1="143.47" y1="223.00" x2="143.47" y2="225.00" stroke="#1a1a1a" stroke-width="0.9" />
<line x1="147.48" y1="223.00" x2="147.48" y2="225.00" stroke="#1a1a1a" stroke-width="0.9" />
<line x1="151.49" y1="223.00" x2="151.49" y2="225.00" stroke="#1a1a1a" stroke-width="0.9" />
<line x1="159.51" y1="223.00" x2="159.51" y2="225.00" stroke="#1a1a1a" stroke-width="0.9" />
<line x1="163.52" y1="223.00" x2="163.52" y2="225.00" stroke="#1a1a1a" stroke-width="0.9" />
<line x1="167.53" y1="223.00" x2="167.53" y2="225.00" stroke="#1a1a1a" stroke-width="0.9" />
<line x1="171.53" y1="223.00" x2="171.53" y2="225.00" stroke="#1a1a1a" stroke-width="0.9" />
<line x1="175.54" y1="223.00" x2="175.54" y2="225.00" stroke="#1a1a1a" stroke-width="0.9" />
<line x1="183.56" y1="223.00" x2="183.56" y2="225.00" stroke="#1a1a1a" stroke-width="0.9" />
<line x1="187.57" y1="223.00" x2="187.57" y2="225.00" stroke="#1a1a1a" stroke-width="0.9" />
<line x1="191.57" y1="223.00" x2="191.57" y2="225.00" stroke="#1a1a1a" stroke-width="0.9" />
<line x1="195.58" y1="223.00" x2="195.58" y2="225.00" stroke="#1a1a1a" stroke-width="0.9" />
<line x1="199.59" y1="223.00" x2="199.59" y2="225.00" stroke="#1a1a1a" stroke-width="0.9" />
<line x1="207.61" y1="223.00" x2="207.61" y2="225.00" stroke="#1a1a1a" stroke-width="0.9" />
<line x1="211.62" y1="223.00" x2="211.62" y2="225.00" stroke="#1a1a1a" stroke-width="0.9" />
<line x1="215.62" y1="223.00" x2="215.62" y2="225.00" stroke="#1a1a1a" stroke-width="0.9" />
<line x1="219.63" y1="223.00" x2="219.63" y2="225.00" stroke="#1a1a1a" stroke-width="0.9" />
<line x1="223.64" y1="223.00" x2="223.64" y2="225.00" stroke="#1a1a1a" stroke-width="0.9" />
<line x1="231.66" y1="223.00" x2="231.66" y2="225.00" stroke="#1a1a1a" stroke-width="0.9" />
<line x1="235.67" y1="223.00" x2="235.67" y2="225.00" stroke="#1a1a1a" stroke-width="0.9" />
<line x1="239.67" y1="223.00" x2="239.67" y2="225.00" stroke="#1a1a1a" stroke-width="0.9" />
<line x1="243.68" y1="223.00" x2="243.68" y2="225.00" stroke="#1a1a1a" stroke-width="0.9" />
<line x1="247.69" y1="223.00" x2="247.69" y2="225.00" stroke="#1a1a1a" stroke-width="0.9" />
<line x1="255.71" y1="223.00" x2="255.71" y2="225.00" stroke="#1a1a1a" stroke-width="0.9" />
<line x1="259.72" y1="223.00" x2="259.72" y2="225.00" stroke="#1a1a1a" stroke-width="0.9" />
<line x1="263.73" y1="223.00" x2="263.73" y2="225.00" stroke="#1a1a1a" stroke-width="0.9" />
<line x1="267.73" y1="223.00" x2="267.73" y2="225.00" stroke="#1a1a1a" stroke-width="0.9" />
<line x1="271.74" y1="223.00" x2="271.74" y2="225.00" stroke="#1a1a1a" stroke-width="0.9" />
<line x1="279.76" y1="223.00" x2="279.76" y2="225.00" stroke="#1a1a1a" stroke-width="0.9" />
<line x1="283.77" y1="223.00" x2="283.77" y2="225.00" stroke="#1a1a1a" stroke-width="0.9" />
<line x1="287.77" y1="223.00" x2="287.77" y2="225.00" stroke="#1a1a1a" stroke-width="0.9" />
<line x1="291.78" y1="223.00" x2="291.78" y2="225.00" stroke="#1a1a1a" stroke-width="0.9" />
<line x1="295.79" y1="223.00" x2="295.79" y2="225.00" stroke="#1a1a1a" stroke-width="0.9" />
<line x1="303.81" y1="223.00" x2="303.81" y2="225.00" stroke="#1a1a1a" stroke-width="0.9" />
<line x1="307.82" y1="223.00" x2="307.82" y2="225.00" stroke="#1a1a1a" stroke-width="0.9" />
<line x1="311.82" y1="223.00" x2="311.82" y2="225.00" stroke="#1a1a1a" stroke-width="0.9" />
<line x1="315.83" y1="223.00" x2="315.83" y2="225.00" stroke="#1a1a1a" stroke-width="0.9" />
<line x1="319.84" y1="223.00" x2="319.84" y2="225.00" stroke="#1a1a1a" stroke-width="0.9" />
<line x1="327.86" y1="223.00" x2="327.86" y2="225.00" stroke="#1a1a1a" stroke-width="0.9" />
<line x1="331.87" y1="223.00" x2="331.87" y2="225.00" stroke="#1a1a1a" stroke-width="0.9" />
<line x1="335.88" y1="223.00" x2="335.88" y2="225.00" stroke="#1a1a1a" stroke-width="0.9" />
<line x1="339.88" y1="223.00" x2="339.88" y2="225.00" stroke="#1a1a1a" stroke-width="0.9" />
<line x1="343.89" y1="223.00" x2="343.89" y2="225.00" stroke="#1a1a1a" stroke-width="0.9" />
<line x1="351.91" y1="223.00" x2="351.91" y2="225.00" stroke="#1a1a1a" stroke-width="0.9" />
<line x1="355.92" y1="223.00" x2="355.92" y2="225.00" stroke="#1a1a1a" stroke-width="0.9" />
<line x1="359.93" y1="223.00" x2="359.93" y2="225.00" stroke="#1a1a1a" stroke-width="0.9" />
<line x1="363.93" y1="223.00" x2="363.93" y2="225.00" stroke="#1a1a1a" stroke-width="0.9" />
<line x1="367.94" y1="223.00" x2="367.94" y2="225.00" stroke="#1a1a1a" stroke-width="0.9" />
<line x1="375.96" y1="223.00" x2="375.96" y2="225.00" stroke="#1a1a1a" stroke-width="0.9" />
<line x1="379.97" y1="223.00" x2="379.97" y2="225.00" stroke="#1a1a1a" stroke-width="0.9" />
<line x1="383.98" y1="223.00" x2="383.98" y2="225.00" stroke="#1a1a1a" stroke-width="0.9" />
<line x1="387.98" y1="223.00" x2="387.98" y2="225.00" stroke="#1a1a1a" stroke-width="0.9" />
<line x1="391.99" y1="223.00" x2="391.99" y2="225.00" stroke="#1a1a1a" stroke-width="0.9" />
<line x1="400.01" y1="223.00" x2="400.01" y2="225.00" stroke="#1a1a1a" stroke-width="0.9" />
<line x1="404.02" y1="223.00" x2="404.02" y2="225.00" stroke="#1a1a1a" stroke-width="0.9" />
<text x="270.20" y="249.40" font-size="9.2" text-anchor="middle" fill="#231f20" textLength="74.3" lengthAdjust="spacingAndGlyphs" >Years before diagnosis</text>
<line x1="148.80" y1="206.30" x2="148.80" y2="223.00" stroke="#9ccbef" stroke-width="0.9" />
<line x1="294.40" y1="206.30" x2="294.40" y2="223.00" stroke="#9ccbef" stroke-width="0.9" />
<line x1="369.00" y1="205.90" x2="369.00" y2="223.00" stroke="#9ccbef" stroke-width="0.9" />
<line x1="395.30" y1="206.30" x2="406.60" y2="221.50" stroke="#9ccbef" stroke-width="0.8" />
<path d="M148.80,193.80L153.66,182.34A12.45,12.45 0 0 1 161.25,193.80Z" fill="#c83719"/>
<path d="M148.80,193.80L161.25,193.80A12.45,12.45 0 0 1 161.22,194.65Z" fill="#c6c6c6"/>
<path d="M148.80,193.80L161.23,194.58A12.45,12.45 0 0 1 161.14,195.43Z" fill="#9b9b9b"/>
<path d="M148.80,193.80L161.15,195.37A12.45,12.45 0 0 1 161.02,196.20Z" fill="#707070"/>
<path d="M148.80,193.80L161.03,196.14A12.45,12.45 0 0 1 160.84,196.97Z" fill="#c6c6c6"/>
<path d="M148.80,193.80L160.86,196.91A12.45,12.45 0 0 1 160.62,197.72Z" fill="#9b9b9b"/>
<path d="M148.80,193.80L160.64,197.66A12.45,12.45 0 0 1 160.35,198.46Z" fill="#707070"/>
<path d="M148.80,193.80L160.37,198.40A12.45,12.45 0 0 1 160.03,199.18Z" fill="#c6c6c6"/>
<path d="M148.80,193.80L160.06,199.12A12.45,12.45 0 0 1 159.67,199.87Z" fill="#9b9b9b"/>
<path d="M148.80,193.80L159.70,199.81A12.45,12.45 0 0 1 159.27,200.54Z" fill="#707070"/>
<path d="M148.80,193.80L159.30,200.49A12.45,12.45 0 0 1 158.82,201.19Z" fill="#c6c6c6"/>
<path d="M148.80,193.80L158.86,201.14A12.45,12.45 0 0 1 158.33,201.81Z" fill="#9b9b9b"/>
<path d="M148.80,193.80L158.38,201.76A12.45,12.45 0 0 1 157.81,202.39Z" fill="#707070"/>
<path d="M148.80,193.80L157.86,202.34A12.45,12.45 0 0 1 157.25,202.94Z" fill="#c6c6c6"/>
<path d="M148.80,193.80L157.30,202.90A12.45,12.45 0 0 1 156.66,203.46Z" fill="#9b9b9b"/>
<path d="M148.80,193.80L156.71,203.41A12.45,12.45 0 0 1 156.04,203.93Z" fill="#707070"/>
<path d="M148.80,193.80L156.09,203.89A12.45,12.45 0 0 1 155.38,204.37Z" fill="#c6c6c6"/>
<path d="M148.80,193.80L155.44,204.33A12.45,12.45 0 0 1 154.70,204.76Z" fill="#9b9b9b"/>
<path d="M148.80,193.80L154.76,204.73A12.45,12.45 0 0 1 154.00,205.11Z" fill="#707070"/>
<path d="M148.80,193.80L154.06,205.08A12.45,12.45 0 0 1 152.40,205.72Z" fill="#eaeaea"/>
<path d="M148.80,193.80L152.47,205.70A12.45,12.45 0 0 1 150.74,206.10Z" fill="#dfdfdf"/>
<path d="M148.80,193.80L150.80,206.09A12.45,12.45 0 0 1 149.03,206.25Z" fill="#d4d4d4"/>
<path d="M148.80,193.80L149.10,206.25A12.45,12.45 0 0 1 147.33,206.16Z" fill="#c9c9c9"/>
<path d="M148.80,193.80L147.39,206.17A12.45,12.45 0 0 1 145.65,205.84Z" fill="#bdbdbd"/>
<path d="M148.80,193.80L145.71,205.86A12.45,12.45 0 0 1 144.03,205.30Z" fill="#b2b2b2"/>
<path d="M148.80,193.80L144.09,205.32A12.45,12.45 0 0 1 142.50,204.54Z" fill="#a7a7a7"/>
<path d="M148.80,193.80L142.55,204.57A12.45,12.45 0 0 1 141.08,203.57Z" fill="#9c9c9c"/>
<path d="M148.80,193.80L141.14,203.61A12.45,12.45 0 0 1 136.40,192.71Z" fill="#37277a"/>
<path d="M148.80,193.80L136.40,192.71A12.45,12.45 0 0 1 153.66,182.34Z" fill="#fce923"/>
<path d="M294.40,193.80L290.33,181.98A12.50,12.50 0 0 1 306.89,194.24Z" fill="#c83719"/>
<path d="M294.40,193.80L306.89,194.24A12.50,12.50 0 0 1 306.83,195.11Z" fill="#e0e0e0"/>
<path d="M294.40,193.80L306.83,195.11A12.50,12.50 0 0 1 306.75,195.76Z" fill="#9a9a9a"/>
<path d="M294.40,193.80L306.75,195.76A12.50,12.50 0 0 1 306.67,196.19Z" fill="#d8d8d8"/>
<path d="M294.40,193.80L306.67,196.19A12.50,12.50 0 0 1 306.53,196.82Z" fill="#8a8a8a"/>
<path d="M294.40,193.80L306.53,196.82A12.50,12.50 0 0 1 287.78,204.40Z" fill="#37277a"/>
<path d="M294.40,193.80L287.78,204.40A12.50,12.50 0 0 1 290.33,181.98Z" fill="#fce923"/>
<circle cx="369.10" cy="193.50" r="12.40" fill="#c83719"/>
<path d="M369.10,193.50L381.50,193.72A12.40,12.40 0 0 1 381.47,194.36Z" fill="#e8e8e8"/>
<path d="M369.10,193.50L381.47,194.36A12.40,12.40 0 0 1 381.13,196.50Z" fill="#fce923"/>
<path d="M369.10,193.50L381.13,196.50A12.40,12.40 0 0 1 366.73,205.67Z" fill="#37277a"/>
<circle cx="394.90" cy="193.50" r="12.20" fill="#c83719"/>
<polyline points="149.50,172.70 155.00,172.90 160.00,173.50 205.80,173.30 227.30,173.30 294.30,173.40 346.60,174.40 370.80,174.20 396.20,172.30 403.80,172.30 408.00,163.00" fill="none" stroke="#5cb546" stroke-width="1.0" stroke-linejoin="round"/>
<path d="M149.50,171.17L151.03,173.92L147.97,173.92Z" fill="#4aa02e"/>
<path d="M155.00,171.37L156.53,174.12L153.47,174.12Z" fill="#4aa02e"/>
<path d="M160.00,171.97L161.53,174.72L158.47,174.72Z" fill="#4aa02e"/>
<path d="M205.80,171.77L207.33,174.52L204.27,174.52Z" fill="#4aa02e"/>
<path d="M227.30,171.77L228.83,174.52L225.77,174.52Z" fill="#4aa02e"/>
<path d="M294.30,171.87L295.83,174.62L292.77,174.62Z" fill="#4aa02e"/>
<path d="M346.60,172.87L348.13,175.62L345.07,175.62Z" fill="#4aa02e"/>
<path d="M370.80,172.67L372.33,175.42L369.27,175.42Z" fill="#4aa02e"/>
<path d="M396.20,170.77L397.73,173.52L394.67,173.52Z" fill="#4aa02e"/>
<path d="M403.80,170.77L405.33,173.52L402.27,173.52Z" fill="#4aa02e"/>
<path d="M408.00,161.47L409.53,164.22L406.47,164.22Z" fill="#4aa02e"/>
<polyline points="149.50,181.50 155.40,184.20 160.00,183.00 205.80,184.60 227.30,182.20 294.30,181.20 346.60,179.90 370.80,176.20 403.80,173.00 408.00,163.80" fill="none" stroke="#c4284f" stroke-width="1.0" stroke-linejoin="round"/>
<circle cx="149.50" cy="181.50" r="1.60" fill="#b0102c"/>
<circle cx="155.40" cy="184.20" r="1.60" fill="#b0102c"/>
<circle cx="160.00" cy="183.00" r="1.60" fill="#b0102c"/>
<circle cx="205.80" cy="184.60" r="1.60" fill="#b0102c"/>
<circle cx="227.30" cy="182.20" r="1.60" fill="#b0102c"/>
<circle cx="294.30" cy="181.20" r="1.60" fill="#b0102c"/>
<circle cx="346.60" cy="179.90" r="1.60" fill="#b0102c"/>
<circle cx="370.80" cy="176.20" r="1.60" fill="#b0102c"/>
<circle cx="403.80" cy="173.00" r="1.60" fill="#b0102c"/>
<circle cx="408.00" cy="163.80" r="1.60" fill="#b0102c"/>
<polyline points="149.50,169.60 154.60,170.80 160.00,171.20 205.80,178.70 227.30,160.60 294.30,155.80 346.60,154.50 370.80,154.30 403.80,153.20" fill="none" stroke="#1c3a7e" stroke-width="1.0" stroke-linejoin="round"/>
<path d="M149.50,171.13L151.03,168.38L147.97,168.38Z" fill="#1c3a7e"/>
<path d="M154.60,172.33L156.13,169.58L153.07,169.58Z" fill="#1c3a7e"/>
<path d="M160.00,172.73L161.53,169.98L158.47,169.98Z" fill="#1c3a7e"/>
<path d="M205.80,180.23L207.33,177.48L204.27,177.48Z" fill="#1c3a7e"/>
<path d="M227.30,162.13L228.83,159.38L225.77,159.38Z" fill="#1c3a7e"/>
<path d="M294.30,157.33L295.83,154.58L292.77,154.58Z" fill="#1c3a7e"/>
<path d="M346.60,156.03L348.13,153.28L345.07,153.28Z" fill="#1c3a7e"/>
<path d="M370.80,155.83L372.33,153.08L369.27,153.08Z" fill="#1c3a7e"/>
<path d="M403.80,154.73L405.33,151.98L402.27,151.98Z" fill="#1c3a7e"/>
<text x="270.15" y="275.40" font-size="10" text-anchor="middle" fill="#231f20" >A2</text>
<line x1="132.60" y1="279.70" x2="132.60" y2="353.80" stroke="#1a1a1a" stroke-width="1.4" />
<line x1="129.40" y1="282.70" x2="132.60" y2="282.70" stroke="#1a1a1a" stroke-width="1.0" />
<text x="127.00" y="285.70" font-size="8.5" text-anchor="end" fill="#231f20" transform="translate(127.00 285.70) scale(0.93 1) translate(-127.00 -285.70)" >1000</text>
<line x1="131.00" y1="290.89" x2="132.60" y2="290.89" stroke="#1a1a1a" stroke-width="0.7" />
<line x1="131.00" y1="288.83" x2="132.60" y2="288.83" stroke="#1a1a1a" stroke-width="0.7" />
<line x1="131.00" y1="287.36" x2="132.60" y2="287.36" stroke="#1a1a1a" stroke-width="0.7" />
<line x1="131.00" y1="286.23" x2="132.60" y2="286.23" stroke="#1a1a1a" stroke-width="0.7" />
<line x1="131.00" y1="285.30" x2="132.60" y2="285.30" stroke="#1a1a1a" stroke-width="0.7" />
<line x1="131.00" y1="284.51" x2="132.60" y2="284.51" stroke="#1a1a1a" stroke-width="0.7" />
<line x1="131.00" y1="283.84" x2="132.60" y2="283.84" stroke="#1a1a1a" stroke-width="0.7" />
<line x1="131.00" y1="283.24" x2="132.60" y2="283.24" stroke="#1a1a1a" stroke-width="0.7" />
<line x1="129.40" y1="294.42" x2="132.60" y2="294.42" stroke="#1a1a1a" stroke-width="1.0" />
<text x="127.00" y="297.42" font-size="8.5" text-anchor="end" fill="#231f20" transform="translate(127.00 297.42) scale(0.93 1) translate(-127.00 -297.42)" >100</text>
<line x1="131.00" y1="302.61" x2="132.60" y2="302.61" stroke="#1a1a1a" stroke-width="0.7" />
<line x1="131.00" y1="300.54" x2="132.60" y2="300.54" stroke="#1a1a1a" stroke-width="0.7" />
<line x1="131.00" y1="299.08" x2="132.60" y2="299.08" stroke="#1a1a1a" stroke-width="0.7" />
<line x1="131.00" y1="297.94" x2="132.60" y2="297.94" stroke="#1a1a1a" stroke-width="0.7" />
<line x1="131.00" y1="297.02" x2="132.60" y2="297.02" stroke="#1a1a1a" stroke-width="0.7" />
<line x1="131.00" y1="296.23" x2="132.60" y2="296.23" stroke="#1a1a1a" stroke-width="0.7" />
<line x1="131.00" y1="295.55" x2="132.60" y2="295.55" stroke="#1a1a1a" stroke-width="0.7" />
<line x1="131.00" y1="294.95" x2="132.60" y2="294.95" stroke="#1a1a1a" stroke-width="0.7" />
<line x1="129.40" y1="306.13" x2="132.60" y2="306.13" stroke="#1a1a1a" stroke-width="1.0" />
<text x="127.00" y="309.13" font-size="8.5" text-anchor="end" fill="#231f20" transform="translate(127.00 309.13) scale(0.93 1) translate(-127.00 -309.13)" >10</text>
<line x1="131.00" y1="314.32" x2="132.60" y2="314.32" stroke="#1a1a1a" stroke-width="0.7" />
<line x1="131.00" y1="312.26" x2="132.60" y2="312.26" stroke="#1a1a1a" stroke-width="0.7" />
<line x1="131.00" y1="310.80" x2="132.60" y2="310.80" stroke="#1a1a1a" stroke-width="0.7" />
<line x1="131.00" y1="309.66" x2="132.60" y2="309.66" stroke="#1a1a1a" stroke-width="0.7" />
<line x1="131.00" y1="308.73" x2="132.60" y2="308.73" stroke="#1a1a1a" stroke-width="0.7" />
<line x1="131.00" y1="307.95" x2="132.60" y2="307.95" stroke="#1a1a1a" stroke-width="0.7" />
<line x1="131.00" y1="307.27" x2="132.60" y2="307.27" stroke="#1a1a1a" stroke-width="0.7" />
<line x1="131.00" y1="306.67" x2="132.60" y2="306.67" stroke="#1a1a1a" stroke-width="0.7" />
<line x1="129.40" y1="317.85" x2="132.60" y2="317.85" stroke="#1a1a1a" stroke-width="1.0" />
<text x="127.00" y="320.85" font-size="8.5" text-anchor="end" fill="#231f20" transform="translate(127.00 320.85) scale(0.93 1) translate(-127.00 -320.85)" >1</text>
<line x1="131.00" y1="326.04" x2="132.60" y2="326.04" stroke="#1a1a1a" stroke-width="0.7" />
<line x1="131.00" y1="323.98" x2="132.60" y2="323.98" stroke="#1a1a1a" stroke-width="0.7" />
<line x1="131.00" y1="322.51" x2="132.60" y2="322.51" stroke="#1a1a1a" stroke-width="0.7" />
<line x1="131.00" y1="321.38" x2="132.60" y2="321.38" stroke="#1a1a1a" stroke-width="0.7" />
<line x1="131.00" y1="320.45" x2="132.60" y2="320.45" stroke="#1a1a1a" stroke-width="0.7" />
<line x1="131.00" y1="319.66" x2="132.60" y2="319.66" stroke="#1a1a1a" stroke-width="0.7" />
<line x1="131.00" y1="318.99" x2="132.60" y2="318.99" stroke="#1a1a1a" stroke-width="0.7" />
<line x1="131.00" y1="318.39" x2="132.60" y2="318.39" stroke="#1a1a1a" stroke-width="0.7" />
<line x1="129.40" y1="329.57" x2="132.60" y2="329.57" stroke="#1a1a1a" stroke-width="1.0" />
<text x="127.00" y="332.57" font-size="8.5" text-anchor="end" fill="#231f20" transform="translate(127.00 332.57) scale(0.93 1) translate(-127.00 -332.57)" >0.1</text>
<line x1="131.00" y1="337.76" x2="132.60" y2="337.76" stroke="#1a1a1a" stroke-width="0.7" />
<line x1="131.00" y1="335.69" x2="132.60" y2="335.69" stroke="#1a1a1a" stroke-width="0.7" />
<line x1="131.00" y1="334.23" x2="132.60" y2="334.23" stroke="#1a1a1a" stroke-width="0.7" />
<line x1="131.00" y1="333.09" x2="132.60" y2="333.09" stroke="#1a1a1a" stroke-width="0.7" />
<line x1="131.00" y1="332.17" x2="132.60" y2="332.17" stroke="#1a1a1a" stroke-width="0.7" />
<line x1="131.00" y1="331.38" x2="132.60" y2="331.38" stroke="#1a1a1a" stroke-width="0.7" />
<line x1="131.00" y1="330.70" x2="132.60" y2="330.70" stroke="#1a1a1a" stroke-width="0.7" />
<line x1="131.00" y1="330.10" x2="132.60" y2="330.10" stroke="#1a1a1a" stroke-width="0.7" />
<line x1="129.40" y1="341.28" x2="132.60" y2="341.28" stroke="#1a1a1a" stroke-width="1.0" />
<text x="127.00" y="344.28" font-size="8.5" text-anchor="end" fill="#231f20" transform="translate(127.00 344.28) scale(0.93 1) translate(-127.00 -344.28)" >0.01</text>
<line x1="131.00" y1="349.47" x2="132.60" y2="349.47" stroke="#1a1a1a" stroke-width="0.7" />
<line x1="131.00" y1="347.41" x2="132.60" y2="347.41" stroke="#1a1a1a" stroke-width="0.7" />
<line x1="131.00" y1="345.95" x2="132.60" y2="345.95" stroke="#1a1a1a" stroke-width="0.7" />
<line x1="131.00" y1="344.81" x2="132.60" y2="344.81" stroke="#1a1a1a" stroke-width="0.7" />
<line x1="131.00" y1="343.88" x2="132.60" y2="343.88" stroke="#1a1a1a" stroke-width="0.7" />
<line x1="131.00" y1="343.10" x2="132.60" y2="343.10" stroke="#1a1a1a" stroke-width="0.7" />
<line x1="131.00" y1="342.42" x2="132.60" y2="342.42" stroke="#1a1a1a" stroke-width="0.7" />
<line x1="131.00" y1="341.82" x2="132.60" y2="341.82" stroke="#1a1a1a" stroke-width="0.7" />
<line x1="129.40" y1="353.00" x2="132.60" y2="353.00" stroke="#1a1a1a" stroke-width="1.0" />
<text x="127.00" y="356.00" font-size="8.5" text-anchor="end" fill="#231f20" transform="translate(127.00 356.00) scale(0.93 1) translate(-127.00 -356.00)" >0.001</text>
<text x="90.10" y="316.65" font-size="9.6" text-anchor="middle" fill="#231f20" textLength="69" lengthAdjust="spacingAndGlyphs" transform="rotate(-90 90.10 316.65)" >Absolute abundance</text>
<text x="100.80" y="316.65" font-size="9.6" text-anchor="middle" fill="#231f20" textLength="54.5" lengthAdjust="spacingAndGlyphs" transform="rotate(-90 100.80 316.65)" >(per 100 PBMC)</text>
<line x1="407.70" y1="279.70" x2="407.70" y2="353.80" stroke="#1a1a1a" stroke-width="1.4" />
<line x1="407.70" y1="353.00" x2="410.70" y2="353.00" stroke="#1a1a1a" stroke-width="1.0" />
<text x="413.70" y="356.00" font-size="8.5" text-anchor="start" fill="#231f20" transform="translate(413.70 356.00) scale(0.92 1) translate(-413.70 -356.00)" >0.0</text>
<line x1="407.70" y1="338.94" x2="410.70" y2="338.94" stroke="#1a1a1a" stroke-width="1.0" />
<text x="413.70" y="341.94" font-size="8.5" text-anchor="start" fill="#231f20" transform="translate(413.70 341.94) scale(0.92 1) translate(-413.70 -341.94)" >0.2</text>
<line x1="407.70" y1="324.88" x2="410.70" y2="324.88" stroke="#1a1a1a" stroke-width="1.0" />
<text x="413.70" y="327.88" font-size="8.5" text-anchor="start" fill="#231f20" transform="translate(413.70 327.88) scale(0.92 1) translate(-413.70 -327.88)" >0.4</text>
<line x1="407.70" y1="310.82" x2="410.70" y2="310.82" stroke="#1a1a1a" stroke-width="1.0" />
<text x="413.70" y="313.82" font-size="8.5" text-anchor="start" fill="#231f20" transform="translate(413.70 313.82) scale(0.92 1) translate(-413.70 -313.82)" >0.6</text>
<line x1="407.70" y1="296.76" x2="410.70" y2="296.76" stroke="#1a1a1a" stroke-width="1.0" />
<text x="413.70" y="299.76" font-size="8.5" text-anchor="start" fill="#231f20" transform="translate(413.70 299.76) scale(0.92 1) translate(-413.70 -299.76)" >0.8</text>
<line x1="407.70" y1="282.70" x2="410.70" y2="282.70" stroke="#1a1a1a" stroke-width="1.0" />
<text x="413.70" y="285.70" font-size="8.5" text-anchor="start" fill="#231f20" transform="translate(413.70 285.70) scale(0.92 1) translate(-413.70 -285.70)" >1.0</text>
<text x="430.70" y="316.85" font-size="10.6" text-anchor="middle" fill="#231f20" textLength="12.3" lengthAdjust="spacingAndGlyphs" transform="rotate(90 430.70 316.85)" >OCI</text>
<line x1="131.90" y1="353.20" x2="408.40" y2="353.20" stroke="#1a1a1a" stroke-width="1.4" />
<line x1="132.48" y1="353.20" x2="132.48" y2="356.40" stroke="#1a1a1a" stroke-width="1.0" />
<line x1="157.50" y1="353.20" x2="157.50" y2="356.40" stroke="#1a1a1a" stroke-width="1.0" />
<text x="157.50" y="366.70" font-size="8.5" text-anchor="middle" fill="#231f20" >-10</text>
<line x1="182.52" y1="353.20" x2="182.52" y2="356.40" stroke="#1a1a1a" stroke-width="1.0" />
<text x="182.52" y="366.70" font-size="8.5" text-anchor="middle" fill="#231f20" >-9</text>
<line x1="207.54" y1="353.20" x2="207.54" y2="356.40" stroke="#1a1a1a" stroke-width="1.0" />
<text x="207.54" y="366.70" font-size="8.5" text-anchor="middle" fill="#231f20" >-8</text>
<line x1="232.56" y1="353.20" x2="232.56" y2="356.40" stroke="#1a1a1a" stroke-width="1.0" />
<text x="232.56" y="366.70" font-size="8.5" text-anchor="middle" fill="#231f20" >-7</text>
<line x1="257.58" y1="353.20" x2="257.58" y2="356.40" stroke="#1a1a1a" stroke-width="1.0" />
<text x="257.58" y="366.70" font-size="8.5" text-anchor="middle" fill="#231f20" >-6</text>
<line x1="282.60" y1="353.20" x2="282.60" y2="356.40" stroke="#1a1a1a" stroke-width="1.0" />
<text x="282.60" y="366.70" font-size="8.5" text-anchor="middle" fill="#231f20" >-5</text>
<line x1="307.62" y1="353.20" x2="307.62" y2="356.40" stroke="#1a1a1a" stroke-width="1.0" />
<text x="307.62" y="366.70" font-size="8.5" text-anchor="middle" fill="#231f20" >-4</text>
<line x1="332.64" y1="353.20" x2="332.64" y2="356.40" stroke="#1a1a1a" stroke-width="1.0" />
<text x="332.64" y="366.70" font-size="8.5" text-anchor="middle" fill="#231f20" >-3</text>
<line x1="357.66" y1="353.20" x2="357.66" y2="356.40" stroke="#1a1a1a" stroke-width="1.0" />
<text x="357.66" y="366.70" font-size="8.5" text-anchor="middle" fill="#231f20" >-2</text>
<line x1="382.68" y1="353.20" x2="382.68" y2="356.40" stroke="#1a1a1a" stroke-width="1.0" />
<text x="382.68" y="366.70" font-size="8.5" text-anchor="middle" fill="#231f20" >-1</text>
<line x1="407.70" y1="353.20" x2="407.70" y2="356.40" stroke="#1a1a1a" stroke-width="1.0" />
<text x="407.70" y="366.70" font-size="8.5" text-anchor="middle" fill="#231f20" >0</text>
<line x1="136.65" y1="353.20" x2="136.65" y2="355.20" stroke="#1a1a1a" stroke-width="0.9" />
<line x1="140.82" y1="353.20" x2="140.82" y2="355.20" stroke="#1a1a1a" stroke-width="0.9" />
<line x1="144.99" y1="353.20" x2="144.99" y2="355.20" stroke="#1a1a1a" stroke-width="0.9" />
<line x1="149.16" y1="353.20" x2="149.16" y2="355.20" stroke="#1a1a1a" stroke-width="0.9" />
<line x1="153.33" y1="353.20" x2="153.33" y2="355.20" stroke="#1a1a1a" stroke-width="0.9" />
<line x1="161.67" y1="353.20" x2="161.67" y2="355.20" stroke="#1a1a1a" stroke-width="0.9" />
<line x1="165.84" y1="353.20" x2="165.84" y2="355.20" stroke="#1a1a1a" stroke-width="0.9" />
<line x1="170.01" y1="353.20" x2="170.01" y2="355.20" stroke="#1a1a1a" stroke-width="0.9" />
<line x1="174.18" y1="353.20" x2="174.18" y2="355.20" stroke="#1a1a1a" stroke-width="0.9" />
<line x1="178.35" y1="353.20" x2="178.35" y2="355.20" stroke="#1a1a1a" stroke-width="0.9" />
<line x1="186.69" y1="353.20" x2="186.69" y2="355.20" stroke="#1a1a1a" stroke-width="0.9" />
<line x1="190.86" y1="353.20" x2="190.86" y2="355.20" stroke="#1a1a1a" stroke-width="0.9" />
<line x1="195.03" y1="353.20" x2="195.03" y2="355.20" stroke="#1a1a1a" stroke-width="0.9" />
<line x1="199.20" y1="353.20" x2="199.20" y2="355.20" stroke="#1a1a1a" stroke-width="0.9" />
<line x1="203.37" y1="353.20" x2="203.37" y2="355.20" stroke="#1a1a1a" stroke-width="0.9" />
<line x1="211.71" y1="353.20" x2="211.71" y2="355.20" stroke="#1a1a1a" stroke-width="0.9" />
<line x1="215.88" y1="353.20" x2="215.88" y2="355.20" stroke="#1a1a1a" stroke-width="0.9" />
<line x1="220.05" y1="353.20" x2="220.05" y2="355.20" stroke="#1a1a1a" stroke-width="0.9" />
<line x1="224.22" y1="353.20" x2="224.22" y2="355.20" stroke="#1a1a1a" stroke-width="0.9" />
<line x1="228.39" y1="353.20" x2="228.39" y2="355.20" stroke="#1a1a1a" stroke-width="0.9" />
<line x1="236.73" y1="353.20" x2="236.73" y2="355.20" stroke="#1a1a1a" stroke-width="0.9" />
<line x1="240.90" y1="353.20" x2="240.90" y2="355.20" stroke="#1a1a1a" stroke-width="0.9" />
<line x1="245.07" y1="353.20" x2="245.07" y2="355.20" stroke="#1a1a1a" stroke-width="0.9" />
<line x1="249.24" y1="353.20" x2="249.24" y2="355.20" stroke="#1a1a1a" stroke-width="0.9" />
<line x1="253.41" y1="353.20" x2="253.41" y2="355.20" stroke="#1a1a1a" stroke-width="0.9" />
<line x1="261.75" y1="353.20" x2="261.75" y2="355.20" stroke="#1a1a1a" stroke-width="0.9" />
<line x1="265.92" y1="353.20" x2="265.92" y2="355.20" stroke="#1a1a1a" stroke-width="0.9" />
<line x1="270.09" y1="353.20" x2="270.09" y2="355.20" stroke="#1a1a1a" stroke-width="0.9" />
<line x1="274.26" y1="353.20" x2="274.26" y2="355.20" stroke="#1a1a1a" stroke-width="0.9" />
<line x1="278.43" y1="353.20" x2="278.43" y2="355.20" stroke="#1a1a1a" stroke-width="0.9" />
<line x1="286.77" y1="353.20" x2="286.77" y2="355.20" stroke="#1a1a1a" stroke-width="0.9" />
<line x1="290.94" y1="353.20" x2="290.94" y2="355.20" stroke="#1a1a1a" stroke-width="0.9" />
<line x1="295.11" y1="353.20" x2="295.11" y2="355.20" stroke="#1a1a1a" stroke-width="0.9" />
<line x1="299.28" y1="353.20" x2="299.28" y2="355.20" stroke="#1a1a1a" stroke-width="0.9" />
<line x1="303.45" y1="353.20" x2="303.45" y2="355.20" stroke="#1a1a1a" stroke-width="0.9" />
<line x1="311.79" y1="353.20" x2="311.79" y2="355.20" stroke="#1a1a1a" stroke-width="0.9" />
<line x1="315.96" y1="353.20" x2="315.96" y2="355.20" stroke="#1a1a1a" stroke-width="0.9" />
<line x1="320.13" y1="353.20" x2="320.13" y2="355.20" stroke="#1a1a1a" stroke-width="0.9" />
<line x1="324.30" y1="353.20" x2="324.30" y2="355.20" stroke="#1a1a1a" stroke-width="0.9" />
<line x1="328.47" y1="353.20" x2="328.47" y2="355.20" stroke="#1a1a1a" stroke-width="0.9" />
<line x1="336.81" y1="353.20" x2="336.81" y2="355.20" stroke="#1a1a1a" stroke-width="0.9" />
<line x1="340.98" y1="353.20" x2="340.98" y2="355.20" stroke="#1a1a1a" stroke-width="0.9" />
<line x1="345.15" y1="353.20" x2="345.15" y2="355.20" stroke="#1a1a1a" stroke-width="0.9" />
<line x1="349.32" y1="353.20" x2="349.32" y2="355.20" stroke="#1a1a1a" stroke-width="0.9" />
<line x1="353.49" y1="353.20" x2="353.49" y2="355.20" stroke="#1a1a1a" stroke-width="0.9" />
<line x1="361.83" y1="353.20" x2="361.83" y2="355.20" stroke="#1a1a1a" stroke-width="0.9" />
<line x1="366.00" y1="353.20" x2="366.00" y2="355.20" stroke="#1a1a1a" stroke-width="0.9" />
<line x1="370.17" y1="353.20" x2="370.17" y2="355.20" stroke="#1a1a1a" stroke-width="0.9" />
<line x1="374.34" y1="353.20" x2="374.34" y2="355.20" stroke="#1a1a1a" stroke-width="0.9" />
<line x1="378.51" y1="353.20" x2="378.51" y2="355.20" stroke="#1a1a1a" stroke-width="0.9" />
<line x1="386.85" y1="353.20" x2="386.85" y2="355.20" stroke="#1a1a1a" stroke-width="0.9" />
<line x1="391.02" y1="353.20" x2="391.02" y2="355.20" stroke="#1a1a1a" stroke-width="0.9" />
<line x1="395.19" y1="353.20" x2="395.19" y2="355.20" stroke="#1a1a1a" stroke-width="0.9" />
<line x1="399.36" y1="353.20" x2="399.36" y2="355.20" stroke="#1a1a1a" stroke-width="0.9" />
<line x1="403.53" y1="353.20" x2="403.53" y2="355.20" stroke="#1a1a1a" stroke-width="0.9" />
<text x="270.15" y="379.40" font-size="9.2" text-anchor="middle" fill="#231f20" textLength="74.3" lengthAdjust="spacingAndGlyphs" >Years before diagnosis</text>
<line x1="162.50" y1="338.90" x2="162.50" y2="353.00" stroke="#9ccbef" stroke-width="0.9" />
<line x1="323.30" y1="338.80" x2="323.30" y2="353.00" stroke="#9ccbef" stroke-width="0.9" />
<line x1="392.60" y1="338.60" x2="405.80" y2="352.50" stroke="#9ccbef" stroke-width="0.8" />
<path d="M162.50,326.40L175.00,326.40A12.50,12.50 0 0 1 174.97,327.19Z" fill="#9a9a9a"/>
<path d="M162.50,326.40L174.98,327.13A12.50,12.50 0 0 1 174.91,327.92Z" fill="#acacac"/>
<path d="M162.50,326.40L174.92,327.85A12.50,12.50 0 0 1 174.80,328.64Z" fill="#bfbfbf"/>
<path d="M162.50,326.40L174.81,328.57A12.50,12.50 0 0 1 174.65,329.35Z" fill="#9a9a9a"/>
<path d="M162.50,326.40L174.66,329.28A12.50,12.50 0 0 1 174.46,330.05Z" fill="#acacac"/>
<path d="M162.50,326.40L174.47,329.99A12.50,12.50 0 0 1 174.22,330.74Z" fill="#bfbfbf"/>
<path d="M162.50,326.40L174.25,330.68A12.50,12.50 0 0 1 173.95,331.41Z" fill="#9a9a9a"/>
<path d="M162.50,326.40L173.98,331.35A12.50,12.50 0 0 1 173.64,332.07Z" fill="#acacac"/>
<path d="M162.50,326.40L173.67,332.01A12.50,12.50 0 0 1 173.29,332.71Z" fill="#bfbfbf"/>
<path d="M162.50,326.40L173.33,332.65A12.50,12.50 0 0 1 172.91,333.32Z" fill="#9a9a9a"/>
<path d="M162.50,326.40L172.94,333.27A12.50,12.50 0 0 1 172.49,333.92Z" fill="#acacac"/>
<path d="M162.50,326.40L172.53,333.86A12.50,12.50 0 0 1 172.03,334.48Z" fill="#bfbfbf"/>
<path d="M162.50,326.40L172.08,334.43A12.50,12.50 0 0 1 171.55,335.03Z" fill="#9a9a9a"/>
<path d="M162.50,326.40L171.59,334.98A12.50,12.50 0 0 1 171.03,335.54Z" fill="#acacac"/>
<path d="M162.50,326.40L171.08,335.49A12.50,12.50 0 0 1 170.48,336.02Z" fill="#bfbfbf"/>
<path d="M162.50,326.40L170.53,335.98A12.50,12.50 0 0 1 169.91,336.47Z" fill="#9a9a9a"/>
<path d="M162.50,326.40L169.96,336.43A12.50,12.50 0 0 1 169.31,336.88Z" fill="#acacac"/>
<path d="M162.50,326.40L169.37,336.84A12.50,12.50 0 0 1 168.69,337.26Z" fill="#bfbfbf"/>
<path d="M162.50,326.40L168.75,337.23A12.50,12.50 0 0 1 168.05,337.60Z" fill="#9a9a9a"/>
<path d="M162.50,326.40L168.11,337.57A12.50,12.50 0 0 1 167.39,337.90Z" fill="#acacac"/>
<path d="M162.50,326.40L167.45,337.88A12.50,12.50 0 0 1 166.71,338.17Z" fill="#bfbfbf"/>
<path d="M162.50,326.40L166.78,338.15A12.50,12.50 0 0 1 166.02,338.39Z" fill="#9a9a9a"/>
<path d="M162.50,326.40L166.09,338.37A12.50,12.50 0 0 1 165.32,338.58Z" fill="#acacac"/>
<path d="M162.50,326.40L165.38,338.56A12.50,12.50 0 0 1 164.61,338.72Z" fill="#bfbfbf"/>
<path d="M162.50,326.40L164.67,338.71A12.50,12.50 0 0 1 163.89,338.82Z" fill="#9a9a9a"/>
<path d="M162.50,326.40L163.95,338.82A12.50,12.50 0 0 1 163.16,338.88Z" fill="#acacac"/>
<path d="M162.50,326.40L163.23,338.88A12.50,12.50 0 0 1 162.43,338.90Z" fill="#bfbfbf"/>
<path d="M162.50,326.40L162.50,338.90A12.50,12.50 0 0 1 161.71,338.87Z" fill="#9a9a9a"/>
<path d="M162.50,326.40L161.77,338.88A12.50,12.50 0 0 1 160.98,338.81Z" fill="#acacac"/>
<path d="M162.50,326.40L161.05,338.82A12.50,12.50 0 0 1 160.26,338.70Z" fill="#bfbfbf"/>
<path d="M162.50,326.40L160.33,338.71A12.50,12.50 0 0 1 159.55,338.55Z" fill="#9a9a9a"/>
<path d="M162.50,326.40L159.62,338.56A12.50,12.50 0 0 1 158.85,338.36Z" fill="#acacac"/>
<path d="M162.50,326.40L158.91,338.37A12.50,12.50 0 0 1 158.16,338.12Z" fill="#bfbfbf"/>
<path d="M162.50,326.40L158.22,338.15A12.50,12.50 0 0 1 157.49,337.85Z" fill="#9a9a9a"/>
<path d="M162.50,326.40L157.55,337.88A12.50,12.50 0 0 1 156.83,337.54Z" fill="#acacac"/>
<path d="M162.50,326.40L156.89,337.57A12.50,12.50 0 0 1 156.19,337.19Z" fill="#bfbfbf"/>
<path d="M162.50,326.40L156.25,337.23A12.50,12.50 0 0 1 155.58,336.81Z" fill="#9a9a9a"/>
<path d="M162.50,326.40L155.63,336.84A12.50,12.50 0 0 1 154.98,336.39Z" fill="#acacac"/>
<path d="M162.50,326.40L155.04,336.43A12.50,12.50 0 0 1 154.42,335.93Z" fill="#bfbfbf"/>
<path d="M162.50,326.40L154.47,335.98A12.50,12.50 0 0 1 153.87,335.45Z" fill="#9a9a9a"/>
<path d="M162.50,326.40L153.92,335.49A12.50,12.50 0 0 1 153.36,334.93Z" fill="#acacac"/>
<path d="M162.50,326.40L153.41,334.98A12.50,12.50 0 0 1 152.88,334.38Z" fill="#bfbfbf"/>
<path d="M162.50,326.40L152.92,334.43A12.50,12.50 0 0 1 152.43,333.81Z" fill="#9a9a9a"/>
<path d="M162.50,326.40L152.47,333.86A12.50,12.50 0 0 1 152.02,333.21Z" fill="#acacac"/>
<path d="M162.50,326.40L152.06,333.27A12.50,12.50 0 0 1 151.64,332.59Z" fill="#bfbfbf"/>
<path d="M162.50,326.40L151.67,332.65A12.50,12.50 0 0 1 151.30,331.95Z" fill="#9a9a9a"/>
<path d="M162.50,326.40L151.33,332.01A12.50,12.50 0 0 1 151.00,331.29Z" fill="#acacac"/>
<path d="M162.50,326.40L151.02,331.35A12.50,12.50 0 0 1 150.73,330.61Z" fill="#bfbfbf"/>
<path d="M162.50,326.40L150.75,330.68A12.50,12.50 0 0 1 150.51,329.92Z" fill="#9a9a9a"/>
<path d="M162.50,326.40L150.53,329.99A12.50,12.50 0 0 1 150.32,329.22Z" fill="#acacac"/>
<path d="M162.50,326.40L150.34,329.28A12.50,12.50 0 0 1 150.18,328.51Z" fill="#bfbfbf"/>
<path d="M162.50,326.40L150.19,328.57A12.50,12.50 0 0 1 150.08,327.79Z" fill="#9a9a9a"/>
<path d="M162.50,326.40L150.08,327.85A12.50,12.50 0 0 1 150.02,327.06Z" fill="#acacac"/>
<path d="M162.50,326.40L150.02,327.13A12.50,12.50 0 0 1 150.00,326.33Z" fill="#bfbfbf"/>
<path d="M162.50,326.40L150.00,326.40A12.50,12.50 0 0 1 150.03,325.61Z" fill="#9a9a9a"/>
<path d="M162.50,326.40L150.02,325.67A12.50,12.50 0 0 1 150.09,324.88Z" fill="#acacac"/>
<path d="M162.50,326.40L150.08,324.95A12.50,12.50 0 0 1 150.20,324.16Z" fill="#bfbfbf"/>
<path d="M162.50,326.40L150.19,324.23A12.50,12.50 0 0 1 150.35,323.45Z" fill="#9a9a9a"/>
<path d="M162.50,326.40L150.34,323.52A12.50,12.50 0 0 1 150.54,322.75Z" fill="#acacac"/>
<path d="M162.50,326.40L150.53,322.81A12.50,12.50 0 0 1 150.78,322.06Z" fill="#bfbfbf"/>
<path d="M162.50,326.40L150.75,322.12A12.50,12.50 0 0 1 151.05,321.39Z" fill="#9a9a9a"/>
<path d="M162.50,326.40L151.02,321.45A12.50,12.50 0 0 1 151.36,320.73Z" fill="#acacac"/>
<path d="M162.50,326.40L151.33,320.79A12.50,12.50 0 0 1 151.71,320.09Z" fill="#bfbfbf"/>
<path d="M162.50,326.40L151.67,320.15A12.50,12.50 0 0 1 152.09,319.48Z" fill="#9a9a9a"/>
<path d="M162.50,326.40L152.06,319.53A12.50,12.50 0 0 1 152.51,318.88Z" fill="#acacac"/>
<path d="M162.50,326.40L152.47,318.94A12.50,12.50 0 0 1 152.97,318.32Z" fill="#bfbfbf"/>
<path d="M162.50,326.40L152.92,318.37A12.50,12.50 0 0 1 154.80,316.55Z" fill="#37277a"/>
<path d="M162.50,326.40L154.80,316.55A12.50,12.50 0 0 1 167.28,314.85Z" fill="#c83719"/>
<path d="M162.50,326.40L167.28,314.85A12.50,12.50 0 0 1 175.00,326.40Z" fill="#fce923"/>
<path d="M322.80,326.40L335.20,326.40A12.40,12.40 0 0 1 335.17,327.31Z" fill="#a9a9a9"/>
<path d="M322.80,326.40L335.17,327.24A12.40,12.40 0 0 1 335.08,328.14Z" fill="#9e9e9e"/>
<path d="M322.80,326.40L335.09,328.08A12.40,12.40 0 0 1 334.93,328.97Z" fill="#929292"/>
<path d="M322.80,326.40L334.94,328.91A12.40,12.40 0 0 1 334.73,329.79Z" fill="#a9a9a9"/>
<path d="M322.80,326.40L334.75,329.73A12.40,12.40 0 0 1 334.47,330.59Z" fill="#9e9e9e"/>
<path d="M322.80,326.40L334.49,330.53A12.40,12.40 0 0 1 334.16,331.37Z" fill="#929292"/>
<path d="M322.80,326.40L334.19,331.31A12.40,12.40 0 0 1 333.80,332.13Z" fill="#a9a9a9"/>
<path d="M322.80,326.40L333.83,332.07A12.40,12.40 0 0 1 333.38,332.86Z" fill="#9e9e9e"/>
<path d="M322.80,326.40L333.42,332.81A12.40,12.40 0 0 1 332.92,333.57Z" fill="#929292"/>
<path d="M322.80,326.40L332.96,333.51A12.40,12.40 0 0 1 332.41,334.24Z" fill="#a9a9a9"/>
<path d="M322.80,326.40L332.45,334.18A12.40,12.40 0 0 1 331.86,334.87Z" fill="#9e9e9e"/>
<path d="M322.80,326.40L331.90,334.82A12.40,12.40 0 0 1 331.26,335.46Z" fill="#929292"/>
<path d="M322.80,326.40L331.31,335.42A12.40,12.40 0 0 1 330.63,336.02Z" fill="#a9a9a9"/>
<path d="M322.80,326.40L330.68,335.98A12.40,12.40 0 0 1 329.96,336.53Z" fill="#9e9e9e"/>
<path d="M322.80,326.40L330.01,336.49A12.40,12.40 0 0 1 329.25,336.99Z" fill="#929292"/>
<path d="M322.80,326.40L329.31,336.95A12.40,12.40 0 0 1 328.52,337.40Z" fill="#a9a9a9"/>
<path d="M322.80,326.40L328.58,337.37A12.40,12.40 0 0 1 327.76,337.76Z" fill="#9e9e9e"/>
<path d="M322.80,326.40L327.82,337.74A12.40,12.40 0 0 1 326.98,338.07Z" fill="#929292"/>
<path d="M322.80,326.40L327.04,338.05A12.40,12.40 0 0 1 324.89,338.62Z" fill="#d4d4d4"/>
<path d="M322.80,326.40L324.95,338.61A12.40,12.40 0 0 1 322.74,338.80Z" fill="#d0d0d0"/>
<path d="M322.80,326.40L322.80,338.80A12.40,12.40 0 0 1 320.58,338.60Z" fill="#cacaca"/>
<path d="M322.80,326.40L320.65,338.61A12.40,12.40 0 0 1 318.50,338.03Z" fill="#c6c6c6"/>
<path d="M322.80,326.40L318.56,338.05A12.40,12.40 0 0 1 316.54,337.11Z" fill="#c0c0c0"/>
<path d="M322.80,326.40L316.60,337.14A12.40,12.40 0 0 1 314.78,335.86Z" fill="#bcbcbc"/>
<path d="M322.80,326.40L314.83,335.90A12.40,12.40 0 0 1 314.34,335.47Z" fill="#555555"/>
<path d="M322.80,326.40L314.34,335.47A12.40,12.40 0 0 1 310.72,329.19Z" fill="#37277a"/>
<path d="M322.80,326.40L310.72,329.19A12.40,12.40 0 0 1 315.87,316.12Z" fill="#c83719"/>
<path d="M322.80,326.40L315.87,316.12A12.40,12.40 0 0 1 335.20,326.40Z" fill="#fce923"/>
<path d="M392.20,326.20L385.42,315.76A12.45,12.45 0 0 1 404.46,328.36Z" fill="#c83719"/>
<path d="M392.20,326.20L404.46,328.36A12.45,12.45 0 0 1 404.33,329.00Z" fill="#c8c8c8"/>
<path d="M392.20,326.20L404.33,329.00A12.45,12.45 0 0 1 387.14,337.57Z" fill="#37277a"/>
<path d="M392.20,326.20L387.14,337.57A12.45,12.45 0 0 1 385.42,315.76Z" fill="#fce923"/>
<text x="395.40" y="324.20" font-size="8.4" text-anchor="middle" fill="#1a0a05" transform="translate(395.40 324.20) scale(0.86 1) translate(-395.40 -324.20)" >LN</text>
<polyline points="163.00,297.00 238.20,294.60 254.80,296.20 264.00,295.80 277.80,300.40 289.60,295.30 322.50,297.60" fill="none" stroke="#5cb546" stroke-width="1.0" stroke-linejoin="round"/>
<rect x="161.56" y="295.56" width="2.88" height="2.88" fill="#4aa02e"/>
<rect x="236.76" y="293.16" width="2.88" height="2.88" fill="#4aa02e"/>
<rect x="253.36" y="294.76" width="2.88" height="2.88" fill="#4aa02e"/>
<rect x="262.56" y="294.36" width="2.88" height="2.88" fill="#4aa02e"/>
<rect x="276.36" y="298.96" width="2.88" height="2.88" fill="#4aa02e"/>
<rect x="288.16" y="293.86" width="2.88" height="2.88" fill="#4aa02e"/>
<rect x="321.06" y="296.16" width="2.88" height="2.88" fill="#4aa02e"/>
<polyline points="163.00,312.20 238.20,294.30 254.80,294.00 264.00,295.50 277.80,299.20 289.60,293.60 322.50,294.80" fill="none" stroke="#c4284f" stroke-width="1.0" stroke-linejoin="round"/>
<path d="M163.00,310.58L164.62,313.50L161.38,313.50Z" fill="#b0102c"/>
<path d="M238.20,292.68L239.82,295.60L236.58,295.60Z" fill="#b0102c"/>
<path d="M254.80,292.38L256.42,295.30L253.18,295.30Z" fill="#b0102c"/>
<path d="M264.00,293.88L265.62,296.80L262.38,296.80Z" fill="#b0102c"/>
<path d="M277.80,297.58L279.42,300.50L276.18,300.50Z" fill="#b0102c"/>
<path d="M289.60,291.98L291.22,294.90L287.98,294.90Z" fill="#b0102c"/>
<path d="M322.50,293.18L324.12,296.10L320.88,296.10Z" fill="#b0102c"/>
<polyline points="163.00,311.10 238.20,287.30 254.60,312.30 264.00,294.60 277.80,293.60 289.60,286.90 322.50,300.80" fill="none" stroke="#1c3a7e" stroke-width="1.0" stroke-linejoin="round"/>
<path d="M163.00,309.74L164.36,311.10L163.00,312.46L161.64,311.10Z" fill="#1c3a7e"/>
<path d="M238.20,285.94L239.56,287.30L238.20,288.66L236.84,287.30Z" fill="#1c3a7e"/>
<path d="M254.60,310.94L255.96,312.30L254.60,313.66L253.24,312.30Z" fill="#1c3a7e"/>
<path d="M264.00,293.24L265.36,294.60L264.00,295.96L262.64,294.60Z" fill="#1c3a7e"/>
<path d="M277.80,292.24L279.16,293.60L277.80,294.96L276.44,293.60Z" fill="#1c3a7e"/>
<path d="M289.60,285.54L290.96,286.90L289.60,288.26L288.24,286.90Z" fill="#1c3a7e"/>
<path d="M322.50,299.44L323.86,300.80L322.50,302.16L321.14,300.80Z" fill="#1c3a7e"/>
<circle cx="407.70" cy="293.80" r="1.44" fill="#b0102c"/>
<text x="99.60" y="405.30" font-size="10" text-anchor="middle" fill="#231f20" >L4</text>
<line x1="58.50" y1="409.60" x2="58.50" y2="483.90" stroke="#1a1a1a" stroke-width="1.4" />
<line x1="55.30" y1="412.60" x2="58.50" y2="412.60" stroke="#1a1a1a" stroke-width="1.0" />
<text x="52.90" y="415.60" font-size="8.5" text-anchor="end" fill="#231f20" transform="translate(52.90 415.60) scale(0.93 1) translate(-52.90 -415.60)" >1000</text>
<line x1="56.90" y1="420.84" x2="58.50" y2="420.84" stroke="#1a1a1a" stroke-width="0.7" />
<line x1="56.90" y1="418.76" x2="58.50" y2="418.76" stroke="#1a1a1a" stroke-width="0.7" />
<line x1="56.90" y1="417.29" x2="58.50" y2="417.29" stroke="#1a1a1a" stroke-width="0.7" />
<line x1="56.90" y1="416.15" x2="58.50" y2="416.15" stroke="#1a1a1a" stroke-width="0.7" />
<line x1="56.90" y1="415.21" x2="58.50" y2="415.21" stroke="#1a1a1a" stroke-width="0.7" />
<line x1="56.90" y1="414.43" x2="58.50" y2="414.43" stroke="#1a1a1a" stroke-width="0.7" />
<line x1="56.90" y1="413.74" x2="58.50" y2="413.74" stroke="#1a1a1a" stroke-width="0.7" />
<line x1="56.90" y1="413.14" x2="58.50" y2="413.14" stroke="#1a1a1a" stroke-width="0.7" />
<line x1="55.30" y1="424.38" x2="58.50" y2="424.38" stroke="#1a1a1a" stroke-width="1.0" />
<text x="52.90" y="427.38" font-size="8.5" text-anchor="end" fill="#231f20" transform="translate(52.90 427.38) scale(0.93 1) translate(-52.90 -427.38)" >100</text>
<line x1="56.90" y1="432.62" x2="58.50" y2="432.62" stroke="#1a1a1a" stroke-width="0.7" />
<line x1="56.90" y1="430.54" x2="58.50" y2="430.54" stroke="#1a1a1a" stroke-width="0.7" />
<line x1="56.90" y1="429.07" x2="58.50" y2="429.07" stroke="#1a1a1a" stroke-width="0.7" />
<line x1="56.90" y1="427.93" x2="58.50" y2="427.93" stroke="#1a1a1a" stroke-width="0.7" />
<line x1="56.90" y1="427.00" x2="58.50" y2="427.00" stroke="#1a1a1a" stroke-width="0.7" />
<line x1="56.90" y1="426.21" x2="58.50" y2="426.21" stroke="#1a1a1a" stroke-width="0.7" />
<line x1="56.90" y1="425.53" x2="58.50" y2="425.53" stroke="#1a1a1a" stroke-width="0.7" />
<line x1="56.90" y1="424.92" x2="58.50" y2="424.92" stroke="#1a1a1a" stroke-width="0.7" />
<line x1="55.30" y1="436.17" x2="58.50" y2="436.17" stroke="#1a1a1a" stroke-width="1.0" />
<text x="52.90" y="439.17" font-size="8.5" text-anchor="end" fill="#231f20" transform="translate(52.90 439.17) scale(0.93 1) translate(-52.90 -439.17)" >10</text>
<line x1="56.90" y1="444.40" x2="58.50" y2="444.40" stroke="#1a1a1a" stroke-width="0.7" />
<line x1="56.90" y1="442.33" x2="58.50" y2="442.33" stroke="#1a1a1a" stroke-width="0.7" />
<line x1="56.90" y1="440.86" x2="58.50" y2="440.86" stroke="#1a1a1a" stroke-width="0.7" />
<line x1="56.90" y1="439.71" x2="58.50" y2="439.71" stroke="#1a1a1a" stroke-width="0.7" />
<line x1="56.90" y1="438.78" x2="58.50" y2="438.78" stroke="#1a1a1a" stroke-width="0.7" />
<line x1="56.90" y1="437.99" x2="58.50" y2="437.99" stroke="#1a1a1a" stroke-width="0.7" />
<line x1="56.90" y1="437.31" x2="58.50" y2="437.31" stroke="#1a1a1a" stroke-width="0.7" />
<line x1="56.90" y1="436.71" x2="58.50" y2="436.71" stroke="#1a1a1a" stroke-width="0.7" />
<line x1="55.30" y1="447.95" x2="58.50" y2="447.95" stroke="#1a1a1a" stroke-width="1.0" />
<text x="52.90" y="450.95" font-size="8.5" text-anchor="end" fill="#231f20" transform="translate(52.90 450.95) scale(0.93 1) translate(-52.90 -450.95)" >1</text>
<line x1="56.90" y1="456.19" x2="58.50" y2="456.19" stroke="#1a1a1a" stroke-width="0.7" />
<line x1="56.90" y1="454.11" x2="58.50" y2="454.11" stroke="#1a1a1a" stroke-width="0.7" />
<line x1="56.90" y1="452.64" x2="58.50" y2="452.64" stroke="#1a1a1a" stroke-width="0.7" />
<line x1="56.90" y1="451.50" x2="58.50" y2="451.50" stroke="#1a1a1a" stroke-width="0.7" />
<line x1="56.90" y1="450.56" x2="58.50" y2="450.56" stroke="#1a1a1a" stroke-width="0.7" />
<line x1="56.90" y1="449.78" x2="58.50" y2="449.78" stroke="#1a1a1a" stroke-width="0.7" />
<line x1="56.90" y1="449.09" x2="58.50" y2="449.09" stroke="#1a1a1a" stroke-width="0.7" />
<line x1="56.90" y1="448.49" x2="58.50" y2="448.49" stroke="#1a1a1a" stroke-width="0.7" />
<line x1="55.30" y1="459.73" x2="58.50" y2="459.73" stroke="#1a1a1a" stroke-width="1.0" />
<text x="52.90" y="462.73" font-size="8.5" text-anchor="end" fill="#231f20" transform="translate(52.90 462.73) scale(0.93 1) translate(-52.90 -462.73)" >0.1</text>
<line x1="56.90" y1="467.97" x2="58.50" y2="467.97" stroke="#1a1a1a" stroke-width="0.7" />
<line x1="56.90" y1="465.89" x2="58.50" y2="465.89" stroke="#1a1a1a" stroke-width="0.7" />
<line x1="56.90" y1="464.42" x2="58.50" y2="464.42" stroke="#1a1a1a" stroke-width="0.7" />
<line x1="56.90" y1="463.28" x2="58.50" y2="463.28" stroke="#1a1a1a" stroke-width="0.7" />
<line x1="56.90" y1="462.35" x2="58.50" y2="462.35" stroke="#1a1a1a" stroke-width="0.7" />
<line x1="56.90" y1="461.56" x2="58.50" y2="461.56" stroke="#1a1a1a" stroke-width="0.7" />
<line x1="56.90" y1="460.88" x2="58.50" y2="460.88" stroke="#1a1a1a" stroke-width="0.7" />
<line x1="56.90" y1="460.27" x2="58.50" y2="460.27" stroke="#1a1a1a" stroke-width="0.7" />
<line x1="55.30" y1="471.52" x2="58.50" y2="471.52" stroke="#1a1a1a" stroke-width="1.0" />
<text x="52.90" y="474.52" font-size="8.5" text-anchor="end" fill="#231f20" transform="translate(52.90 474.52) scale(0.93 1) translate(-52.90 -474.52)" >0.01</text>
<line x1="56.90" y1="479.75" x2="58.50" y2="479.75" stroke="#1a1a1a" stroke-width="0.7" />
<line x1="56.90" y1="477.68" x2="58.50" y2="477.68" stroke="#1a1a1a" stroke-width="0.7" />
<line x1="56.90" y1="476.21" x2="58.50" y2="476.21" stroke="#1a1a1a" stroke-width="0.7" />
<line x1="56.90" y1="475.06" x2="58.50" y2="475.06" stroke="#1a1a1a" stroke-width="0.7" />
<line x1="56.90" y1="474.13" x2="58.50" y2="474.13" stroke="#1a1a1a" stroke-width="0.7" />
<line x1="56.90" y1="473.34" x2="58.50" y2="473.34" stroke="#1a1a1a" stroke-width="0.7" />
<line x1="56.90" y1="472.66" x2="58.50" y2="472.66" stroke="#1a1a1a" stroke-width="0.7" />
<line x1="56.90" y1="472.06" x2="58.50" y2="472.06" stroke="#1a1a1a" stroke-width="0.7" />
<line x1="55.30" y1="483.30" x2="58.50" y2="483.30" stroke="#1a1a1a" stroke-width="1.0" />
<text x="52.90" y="486.30" font-size="8.5" text-anchor="end" fill="#231f20" transform="translate(52.90 486.30) scale(0.93 1) translate(-52.90 -486.30)" >0.001</text>
<text x="15.90" y="446.75" font-size="9.6" text-anchor="middle" fill="#231f20" textLength="69" lengthAdjust="spacingAndGlyphs" transform="rotate(-90 15.90 446.75)" >Absolute abundance</text>
<text x="27.20" y="446.75" font-size="9.6" text-anchor="middle" fill="#231f20" textLength="54.5" lengthAdjust="spacingAndGlyphs" transform="rotate(-90 27.20 446.75)" >(per 100 PBMC)</text>
<line x1="140.70" y1="409.60" x2="140.70" y2="483.90" stroke="#1a1a1a" stroke-width="1.4" />
<line x1="140.70" y1="483.30" x2="143.70" y2="483.30" stroke="#1a1a1a" stroke-width="1.0" />
<text x="146.70" y="486.30" font-size="8.5" text-anchor="start" fill="#231f20" transform="translate(146.70 486.30) scale(0.92 1) translate(-146.70 -486.30)" >0.0</text>
<line x1="140.70" y1="469.16" x2="143.70" y2="469.16" stroke="#1a1a1a" stroke-width="1.0" />
<text x="146.70" y="472.16" font-size="8.5" text-anchor="start" fill="#231f20" transform="translate(146.70 472.16) scale(0.92 1) translate(-146.70 -472.16)" >0.2</text>
<line x1="140.70" y1="455.02" x2="143.70" y2="455.02" stroke="#1a1a1a" stroke-width="1.0" />
<text x="146.70" y="458.02" font-size="8.5" text-anchor="start" fill="#231f20" transform="translate(146.70 458.02) scale(0.92 1) translate(-146.70 -458.02)" >0.4</text>
<line x1="140.70" y1="440.88" x2="143.70" y2="440.88" stroke="#1a1a1a" stroke-width="1.0" />
<text x="146.70" y="443.88" font-size="8.5" text-anchor="start" fill="#231f20" transform="translate(146.70 443.88) scale(0.92 1) translate(-146.70 -443.88)" >0.6</text>
<line x1="140.70" y1="426.74" x2="143.70" y2="426.74" stroke="#1a1a1a" stroke-width="1.0" />
<text x="146.70" y="429.74" font-size="8.5" text-anchor="start" fill="#231f20" transform="translate(146.70 429.74) scale(0.92 1) translate(-146.70 -429.74)" >0.8</text>
<line x1="140.70" y1="412.60" x2="143.70" y2="412.60" stroke="#1a1a1a" stroke-width="1.0" />
<text x="146.70" y="415.60" font-size="8.5" text-anchor="start" fill="#231f20" transform="translate(146.70 415.60) scale(0.92 1) translate(-146.70 -415.60)" >1.0</text>
<text x="163.70" y="446.95" font-size="10.6" text-anchor="middle" fill="#231f20" textLength="12.3" lengthAdjust="spacingAndGlyphs" transform="rotate(90 163.70 446.95)" >OCI</text>
<line x1="57.80" y1="483.30" x2="141.40" y2="483.30" stroke="#1a1a1a" stroke-width="1.4" />
<line x1="58.50" y1="483.30" x2="58.50" y2="486.50" stroke="#1a1a1a" stroke-width="1.0" />
<text x="58.50" y="497.00" font-size="8.5" text-anchor="middle" fill="#231f20" >-3</text>
<line x1="85.90" y1="483.30" x2="85.90" y2="486.50" stroke="#1a1a1a" stroke-width="1.0" />
<text x="85.90" y="497.00" font-size="8.5" text-anchor="middle" fill="#231f20" >-2</text>
<line x1="113.30" y1="483.30" x2="113.30" y2="486.50" stroke="#1a1a1a" stroke-width="1.0" />
<text x="113.30" y="497.00" font-size="8.5" text-anchor="middle" fill="#231f20" >-1</text>
<line x1="140.70" y1="483.30" x2="140.70" y2="486.50" stroke="#1a1a1a" stroke-width="1.0" />
<text x="140.70" y="497.00" font-size="8.5" text-anchor="middle" fill="#231f20" >0</text>
<line x1="63.07" y1="483.30" x2="63.07" y2="485.30" stroke="#1a1a1a" stroke-width="0.9" />
<line x1="67.63" y1="483.30" x2="67.63" y2="485.30" stroke="#1a1a1a" stroke-width="0.9" />
<line x1="72.20" y1="483.30" x2="72.20" y2="485.30" stroke="#1a1a1a" stroke-width="0.9" />
<line x1="76.77" y1="483.30" x2="76.77" y2="485.30" stroke="#1a1a1a" stroke-width="0.9" />
<line x1="81.33" y1="483.30" x2="81.33" y2="485.30" stroke="#1a1a1a" stroke-width="0.9" />
<line x1="90.47" y1="483.30" x2="90.47" y2="485.30" stroke="#1a1a1a" stroke-width="0.9" />
<line x1="95.03" y1="483.30" x2="95.03" y2="485.30" stroke="#1a1a1a" stroke-width="0.9" />
<line x1="99.60" y1="483.30" x2="99.60" y2="485.30" stroke="#1a1a1a" stroke-width="0.9" />
<line x1="104.17" y1="483.30" x2="104.17" y2="485.30" stroke="#1a1a1a" stroke-width="0.9" />
<line x1="108.73" y1="483.30" x2="108.73" y2="485.30" stroke="#1a1a1a" stroke-width="0.9" />
<line x1="117.87" y1="483.30" x2="117.87" y2="485.30" stroke="#1a1a1a" stroke-width="0.9" />
<line x1="122.43" y1="483.30" x2="122.43" y2="485.30" stroke="#1a1a1a" stroke-width="0.9" />
<line x1="127.00" y1="483.30" x2="127.00" y2="485.30" stroke="#1a1a1a" stroke-width="0.9" />
<line x1="131.57" y1="483.30" x2="131.57" y2="485.30" stroke="#1a1a1a" stroke-width="0.9" />
<line x1="136.13" y1="483.30" x2="136.13" y2="485.30" stroke="#1a1a1a" stroke-width="0.9" />
<text x="99.60" y="509.70" font-size="9.2" text-anchor="middle" fill="#231f20" textLength="74.3" lengthAdjust="spacingAndGlyphs" >Years before diagnosis</text>
<line x1="72.20" y1="520.80" x2="83.80" y2="483.30" stroke="#9ccbef" stroke-width="0.8" />
<line x1="107.10" y1="520.80" x2="111.80" y2="483.30" stroke="#9ccbef" stroke-width="0.8" />
<line x1="136.30" y1="520.80" x2="137.20" y2="483.30" stroke="#9ccbef" stroke-width="0.8" />
<circle cx="71.30" cy="533.30" r="12.50" fill="#c83719"/>
<path d="M71.30,533.30L83.80,533.52A12.50,12.50 0 0 1 79.82,542.44Z" fill="#c0c6c6"/>
<path d="M71.30,533.30L83.80,533.52A12.50,12.50 0 0 1 83.71,534.82Z" fill="#c8d0d0"/>
<path d="M71.30,533.30L83.71,534.82A12.50,12.50 0 0 1 83.53,535.90Z" fill="#9a9a9a"/>
<path d="M71.30,533.30L83.53,535.90A12.50,12.50 0 0 1 83.25,536.95Z" fill="#d0d0d0"/>
<path d="M71.30,533.30L83.25,536.95A12.50,12.50 0 0 1 82.81,538.18Z" fill="#6a6a6a"/>
<path d="M71.30,533.30L82.81,538.18A12.50,12.50 0 0 1 82.23,539.36Z" fill="#b4b4b4"/>
<path d="M71.30,533.30L82.23,539.36A12.50,12.50 0 0 1 81.41,540.65Z" fill="#555555"/>
<path d="M71.30,533.30L81.41,540.65A12.50,12.50 0 0 1 79.82,542.44Z" fill="#e2e8e8"/>
<circle cx="104.60" cy="533.50" r="12.50" fill="#c83719"/>
<path d="M104.60,533.50L117.10,533.72A12.50,12.50 0 0 1 115.74,539.17Z" fill="#b8c0c0"/>
<circle cx="137.90" cy="533.30" r="12.50" fill="#c83719"/>
<path d="M137.90,533.30L150.40,533.52A12.50,12.50 0 0 1 149.65,537.58Z" fill="#b9c3c3"/>
<text x="136.80" y="530.80" font-size="8.4" text-anchor="middle" fill="#1a0a05" transform="translate(136.80 530.80) scale(0.86 1) translate(-136.80 -530.80)" >LN</text>
<polyline points="90.10,433.80 97.00,431.90 108.50,432.60 117.80,431.20 128.40,434.70 133.00,433.50 140.70,426.20" fill="none" stroke="#5cb546" stroke-width="1.0" stroke-linejoin="round"/>
<rect x="88.66" y="432.36" width="2.88" height="2.88" fill="#4aa02e"/>
<rect x="95.56" y="430.46" width="2.88" height="2.88" fill="#4aa02e"/>
<rect x="107.06" y="431.16" width="2.88" height="2.88" fill="#4aa02e"/>
<rect x="116.36" y="429.76" width="2.88" height="2.88" fill="#4aa02e"/>
<rect x="126.96" y="433.26" width="2.88" height="2.88" fill="#4aa02e"/>
<rect x="131.56" y="432.06" width="2.88" height="2.88" fill="#4aa02e"/>
<rect x="139.26" y="424.76" width="2.88" height="2.88" fill="#4aa02e"/>
<polyline points="90.10,434.90 97.00,432.40 108.80,437.00 117.80,431.90 128.40,436.50 133.00,435.80 140.70,428.50" fill="none" stroke="#c4284f" stroke-width="1.0" stroke-linejoin="round"/>
<path d="M90.10,433.28L91.72,436.20L88.48,436.20Z" fill="#b0102c"/>
<path d="M97.00,430.78L98.62,433.70L95.38,433.70Z" fill="#b0102c"/>
<path d="M108.80,435.38L110.42,438.30L107.18,438.30Z" fill="#b0102c"/>
<path d="M117.80,430.28L119.42,433.20L116.18,433.20Z" fill="#b0102c"/>
<path d="M128.40,434.88L130.02,437.80L126.78,437.80Z" fill="#b0102c"/>
<path d="M133.00,434.18L134.62,437.10L131.38,437.10Z" fill="#b0102c"/>
<path d="M140.70,426.88L142.32,429.80L139.08,429.80Z" fill="#b0102c"/>
<polyline points="97.00,419.90 108.80,416.90 117.80,434.20 128.40,418.10 133.00,413.90" fill="none" stroke="#1c3a7e" stroke-width="1.0" stroke-linejoin="round"/>
<path d="M97.00,421.43L98.53,418.68L95.47,418.68Z" fill="#1c3a7e"/>
<path d="M108.80,418.43L110.33,415.68L107.27,415.68Z" fill="#1c3a7e"/>
<path d="M117.80,435.73L119.33,432.98L116.27,432.98Z" fill="#1c3a7e"/>
<path d="M128.40,419.63L129.93,416.88L126.87,416.88Z" fill="#1c3a7e"/>
<path d="M133.00,415.43L134.53,412.68L131.47,412.68Z" fill="#1c3a7e"/>
<text x="270.15" y="405.70" font-size="10" text-anchor="middle" fill="#231f20" >A1</text>
<line x1="228.50" y1="410.00" x2="228.50" y2="484.00" stroke="#1a1a1a" stroke-width="1.4" />
<line x1="225.30" y1="413.00" x2="228.50" y2="413.00" stroke="#1a1a1a" stroke-width="1.0" />
<text x="222.90" y="416.00" font-size="8.5" text-anchor="end" fill="#231f20" transform="translate(222.90 416.00) scale(0.93 1) translate(-222.90 -416.00)" >1000</text>
<line x1="226.90" y1="421.20" x2="228.50" y2="421.20" stroke="#1a1a1a" stroke-width="0.7" />
<line x1="226.90" y1="419.14" x2="228.50" y2="419.14" stroke="#1a1a1a" stroke-width="0.7" />
<line x1="226.90" y1="417.67" x2="228.50" y2="417.67" stroke="#1a1a1a" stroke-width="0.7" />
<line x1="226.90" y1="416.53" x2="228.50" y2="416.53" stroke="#1a1a1a" stroke-width="0.7" />
<line x1="226.90" y1="415.60" x2="228.50" y2="415.60" stroke="#1a1a1a" stroke-width="0.7" />
<line x1="226.90" y1="414.82" x2="228.50" y2="414.82" stroke="#1a1a1a" stroke-width="0.7" />
<line x1="226.90" y1="414.14" x2="228.50" y2="414.14" stroke="#1a1a1a" stroke-width="0.7" />
<line x1="226.90" y1="413.54" x2="228.50" y2="413.54" stroke="#1a1a1a" stroke-width="0.7" />
<line x1="225.30" y1="424.73" x2="228.50" y2="424.73" stroke="#1a1a1a" stroke-width="1.0" />
<text x="222.90" y="427.73" font-size="8.5" text-anchor="end" fill="#231f20" transform="translate(222.90 427.73) scale(0.93 1) translate(-222.90 -427.73)" >100</text>
<line x1="226.90" y1="432.93" x2="228.50" y2="432.93" stroke="#1a1a1a" stroke-width="0.7" />
<line x1="226.90" y1="430.87" x2="228.50" y2="430.87" stroke="#1a1a1a" stroke-width="0.7" />
<line x1="226.90" y1="429.40" x2="228.50" y2="429.40" stroke="#1a1a1a" stroke-width="0.7" />
<line x1="226.90" y1="428.27" x2="228.50" y2="428.27" stroke="#1a1a1a" stroke-width="0.7" />
<line x1="226.90" y1="427.34" x2="228.50" y2="427.34" stroke="#1a1a1a" stroke-width="0.7" />
<line x1="226.90" y1="426.55" x2="228.50" y2="426.55" stroke="#1a1a1a" stroke-width="0.7" />
<line x1="226.90" y1="425.87" x2="228.50" y2="425.87" stroke="#1a1a1a" stroke-width="0.7" />
<line x1="226.90" y1="425.27" x2="228.50" y2="425.27" stroke="#1a1a1a" stroke-width="0.7" />
<line x1="225.30" y1="436.47" x2="228.50" y2="436.47" stroke="#1a1a1a" stroke-width="1.0" />
<text x="222.90" y="439.47" font-size="8.5" text-anchor="end" fill="#231f20" transform="translate(222.90 439.47) scale(0.93 1) translate(-222.90 -439.47)" >10</text>
<line x1="226.90" y1="444.67" x2="228.50" y2="444.67" stroke="#1a1a1a" stroke-width="0.7" />
<line x1="226.90" y1="442.60" x2="228.50" y2="442.60" stroke="#1a1a1a" stroke-width="0.7" />
<line x1="226.90" y1="441.14" x2="228.50" y2="441.14" stroke="#1a1a1a" stroke-width="0.7" />
<line x1="226.90" y1="440.00" x2="228.50" y2="440.00" stroke="#1a1a1a" stroke-width="0.7" />
<line x1="226.90" y1="439.07" x2="228.50" y2="439.07" stroke="#1a1a1a" stroke-width="0.7" />
<line x1="226.90" y1="438.28" x2="228.50" y2="438.28" stroke="#1a1a1a" stroke-width="0.7" />
<line x1="226.90" y1="437.60" x2="228.50" y2="437.60" stroke="#1a1a1a" stroke-width="0.7" />
<line x1="226.90" y1="437.00" x2="228.50" y2="437.00" stroke="#1a1a1a" stroke-width="0.7" />
<line x1="225.30" y1="448.20" x2="228.50" y2="448.20" stroke="#1a1a1a" stroke-width="1.0" />
<text x="222.90" y="451.20" font-size="8.5" text-anchor="end" fill="#231f20" transform="translate(222.90 451.20) scale(0.93 1) translate(-222.90 -451.20)" >1</text>
<line x1="226.90" y1="456.40" x2="228.50" y2="456.40" stroke="#1a1a1a" stroke-width="0.7" />
<line x1="226.90" y1="454.34" x2="228.50" y2="454.34" stroke="#1a1a1a" stroke-width="0.7" />
<line x1="226.90" y1="452.87" x2="228.50" y2="452.87" stroke="#1a1a1a" stroke-width="0.7" />
<line x1="226.90" y1="451.73" x2="228.50" y2="451.73" stroke="#1a1a1a" stroke-width="0.7" />
<line x1="226.90" y1="450.80" x2="228.50" y2="450.80" stroke="#1a1a1a" stroke-width="0.7" />
<line x1="226.90" y1="450.02" x2="228.50" y2="450.02" stroke="#1a1a1a" stroke-width="0.7" />
<line x1="226.90" y1="449.34" x2="228.50" y2="449.34" stroke="#1a1a1a" stroke-width="0.7" />
<line x1="226.90" y1="448.74" x2="228.50" y2="448.74" stroke="#1a1a1a" stroke-width="0.7" />
<line x1="225.30" y1="459.93" x2="228.50" y2="459.93" stroke="#1a1a1a" stroke-width="1.0" />
<text x="222.90" y="462.93" font-size="8.5" text-anchor="end" fill="#231f20" transform="translate(222.90 462.93) scale(0.93 1) translate(-222.90 -462.93)" >0.1</text>
<line x1="226.90" y1="468.13" x2="228.50" y2="468.13" stroke="#1a1a1a" stroke-width="0.7" />
<line x1="226.90" y1="466.07" x2="228.50" y2="466.07" stroke="#1a1a1a" stroke-width="0.7" />
<line x1="226.90" y1="464.60" x2="228.50" y2="464.60" stroke="#1a1a1a" stroke-width="0.7" />
<line x1="226.90" y1="463.47" x2="228.50" y2="463.47" stroke="#1a1a1a" stroke-width="0.7" />
<line x1="226.90" y1="462.54" x2="228.50" y2="462.54" stroke="#1a1a1a" stroke-width="0.7" />
<line x1="226.90" y1="461.75" x2="228.50" y2="461.75" stroke="#1a1a1a" stroke-width="0.7" />
<line x1="226.90" y1="461.07" x2="228.50" y2="461.07" stroke="#1a1a1a" stroke-width="0.7" />
<line x1="226.90" y1="460.47" x2="228.50" y2="460.47" stroke="#1a1a1a" stroke-width="0.7" />
<line x1="225.30" y1="471.67" x2="228.50" y2="471.67" stroke="#1a1a1a" stroke-width="1.0" />
<text x="222.90" y="474.67" font-size="8.5" text-anchor="end" fill="#231f20" transform="translate(222.90 474.67) scale(0.93 1) translate(-222.90 -474.67)" >0.01</text>
<line x1="226.90" y1="479.87" x2="228.50" y2="479.87" stroke="#1a1a1a" stroke-width="0.7" />
<line x1="226.90" y1="477.80" x2="228.50" y2="477.80" stroke="#1a1a1a" stroke-width="0.7" />
<line x1="226.90" y1="476.34" x2="228.50" y2="476.34" stroke="#1a1a1a" stroke-width="0.7" />
<line x1="226.90" y1="475.20" x2="228.50" y2="475.20" stroke="#1a1a1a" stroke-width="0.7" />
<line x1="226.90" y1="474.27" x2="228.50" y2="474.27" stroke="#1a1a1a" stroke-width="0.7" />
<line x1="226.90" y1="473.48" x2="228.50" y2="473.48" stroke="#1a1a1a" stroke-width="0.7" />
<line x1="226.90" y1="472.80" x2="228.50" y2="472.80" stroke="#1a1a1a" stroke-width="0.7" />
<line x1="226.90" y1="472.20" x2="228.50" y2="472.20" stroke="#1a1a1a" stroke-width="0.7" />
<line x1="225.30" y1="483.40" x2="228.50" y2="483.40" stroke="#1a1a1a" stroke-width="1.0" />
<text x="222.90" y="486.40" font-size="8.5" text-anchor="end" fill="#231f20" transform="translate(222.90 486.40) scale(0.93 1) translate(-222.90 -486.40)" >0.001</text>
<text x="186.70" y="447.00" font-size="9.6" text-anchor="middle" fill="#231f20" textLength="69" lengthAdjust="spacingAndGlyphs" transform="rotate(-90 186.70 447.00)" >Absolute abundance</text>
<text x="197.90" y="447.00" font-size="9.6" text-anchor="middle" fill="#231f20" textLength="54.5" lengthAdjust="spacingAndGlyphs" transform="rotate(-90 197.90 447.00)" >(per 100 PBMC)</text>
<line x1="311.80" y1="410.00" x2="311.80" y2="484.00" stroke="#1a1a1a" stroke-width="1.4" />
<line x1="311.80" y1="483.40" x2="314.80" y2="483.40" stroke="#1a1a1a" stroke-width="1.0" />
<text x="317.80" y="486.40" font-size="8.5" text-anchor="start" fill="#231f20" transform="translate(317.80 486.40) scale(0.92 1) translate(-317.80 -486.40)" >0.0</text>
<line x1="311.80" y1="469.32" x2="314.80" y2="469.32" stroke="#1a1a1a" stroke-width="1.0" />
<text x="317.80" y="472.32" font-size="8.5" text-anchor="start" fill="#231f20" transform="translate(317.80 472.32) scale(0.92 1) translate(-317.80 -472.32)" >0.2</text>
<line x1="311.80" y1="455.24" x2="314.80" y2="455.24" stroke="#1a1a1a" stroke-width="1.0" />
<text x="317.80" y="458.24" font-size="8.5" text-anchor="start" fill="#231f20" transform="translate(317.80 458.24) scale(0.92 1) translate(-317.80 -458.24)" >0.4</text>
<line x1="311.80" y1="441.16" x2="314.80" y2="441.16" stroke="#1a1a1a" stroke-width="1.0" />
<text x="317.80" y="444.16" font-size="8.5" text-anchor="start" fill="#231f20" transform="translate(317.80 444.16) scale(0.92 1) translate(-317.80 -444.16)" >0.6</text>
<line x1="311.80" y1="427.08" x2="314.80" y2="427.08" stroke="#1a1a1a" stroke-width="1.0" />
<text x="317.80" y="430.08" font-size="8.5" text-anchor="start" fill="#231f20" transform="translate(317.80 430.08) scale(0.92 1) translate(-317.80 -430.08)" >0.8</text>
<line x1="311.80" y1="413.00" x2="314.80" y2="413.00" stroke="#1a1a1a" stroke-width="1.0" />
<text x="317.80" y="416.00" font-size="8.5" text-anchor="start" fill="#231f20" transform="translate(317.80 416.00) scale(0.92 1) translate(-317.80 -416.00)" >1.0</text>
<text x="334.80" y="447.20" font-size="10.6" text-anchor="middle" fill="#231f20" textLength="12.3" lengthAdjust="spacingAndGlyphs" transform="rotate(90 334.80 447.20)" >OCI</text>
<line x1="227.80" y1="483.40" x2="312.50" y2="483.40" stroke="#1a1a1a" stroke-width="1.4" />
<line x1="228.70" y1="483.40" x2="228.70" y2="486.60" stroke="#1a1a1a" stroke-width="1.0" />
<text x="228.70" y="497.10" font-size="8.5" text-anchor="middle" fill="#231f20" >-3</text>
<line x1="256.40" y1="483.40" x2="256.40" y2="486.60" stroke="#1a1a1a" stroke-width="1.0" />
<text x="256.40" y="497.10" font-size="8.5" text-anchor="middle" fill="#231f20" >-2</text>
<line x1="284.10" y1="483.40" x2="284.10" y2="486.60" stroke="#1a1a1a" stroke-width="1.0" />
<text x="284.10" y="497.10" font-size="8.5" text-anchor="middle" fill="#231f20" >-1</text>
<line x1="311.80" y1="483.40" x2="311.80" y2="486.60" stroke="#1a1a1a" stroke-width="1.0" />
<text x="311.80" y="497.10" font-size="8.5" text-anchor="middle" fill="#231f20" >0</text>
<line x1="233.32" y1="483.40" x2="233.32" y2="485.40" stroke="#1a1a1a" stroke-width="0.9" />
<line x1="237.93" y1="483.40" x2="237.93" y2="485.40" stroke="#1a1a1a" stroke-width="0.9" />
<line x1="242.55" y1="483.40" x2="242.55" y2="485.40" stroke="#1a1a1a" stroke-width="0.9" />
<line x1="247.17" y1="483.40" x2="247.17" y2="485.40" stroke="#1a1a1a" stroke-width="0.9" />
<line x1="251.78" y1="483.40" x2="251.78" y2="485.40" stroke="#1a1a1a" stroke-width="0.9" />
<line x1="261.02" y1="483.40" x2="261.02" y2="485.40" stroke="#1a1a1a" stroke-width="0.9" />
<line x1="265.63" y1="483.40" x2="265.63" y2="485.40" stroke="#1a1a1a" stroke-width="0.9" />
<line x1="270.25" y1="483.40" x2="270.25" y2="485.40" stroke="#1a1a1a" stroke-width="0.9" />
<line x1="274.87" y1="483.40" x2="274.87" y2="485.40" stroke="#1a1a1a" stroke-width="0.9" />
<line x1="279.48" y1="483.40" x2="279.48" y2="485.40" stroke="#1a1a1a" stroke-width="0.9" />
<line x1="288.72" y1="483.40" x2="288.72" y2="485.40" stroke="#1a1a1a" stroke-width="0.9" />
<line x1="293.33" y1="483.40" x2="293.33" y2="485.40" stroke="#1a1a1a" stroke-width="0.9" />
<line x1="297.95" y1="483.40" x2="297.95" y2="485.40" stroke="#1a1a1a" stroke-width="0.9" />
<line x1="302.57" y1="483.40" x2="302.57" y2="485.40" stroke="#1a1a1a" stroke-width="0.9" />
<line x1="307.18" y1="483.40" x2="307.18" y2="485.40" stroke="#1a1a1a" stroke-width="0.9" />
<text x="270.15" y="509.80" font-size="9.2" text-anchor="middle" fill="#231f20" textLength="74.3" lengthAdjust="spacingAndGlyphs" >Years before diagnosis</text>
<line x1="248.70" y1="544.40" x2="293.50" y2="483.40" stroke="#9ccbef" stroke-width="0.8" />
<line x1="289.20" y1="515.40" x2="317.80" y2="515.40" stroke="#9ccbef" stroke-width="0.9" />
<line x1="303.80" y1="515.40" x2="311.20" y2="483.40" stroke="#9ccbef" stroke-width="0.8" />
<path d="M233.00,535.30L233.00,547.75A12.45,12.45 0 1 1 245.45,535.30Z" fill="#fce923"/>
<path d="M233.00,535.30L237.05,547.07A12.45,12.45 0 0 1 233.00,547.75Z" fill="#5aa63a"/>
<path d="M233.00,535.30L238.84,546.29A12.45,12.45 0 0 1 237.05,547.07Z" fill="#f4f4f4"/>
<path d="M233.00,535.30L245.45,535.30A12.45,12.45 0 0 1 245.43,535.93Z" fill="#b4b4b4"/>
<path d="M233.00,535.30L245.44,535.86A12.45,12.45 0 0 1 245.39,536.49Z" fill="#a0a0a0"/>
<path d="M233.00,535.30L245.40,536.42A12.45,12.45 0 0 1 245.33,537.04Z" fill="#8c8c8c"/>
<path d="M233.00,535.30L245.34,536.98A12.45,12.45 0 0 1 245.24,537.60Z" fill="#b4b4b4"/>
<path d="M233.00,535.30L245.25,537.53A12.45,12.45 0 0 1 245.12,538.15Z" fill="#a0a0a0"/>
<path d="M233.00,535.30L245.13,538.08A12.45,12.45 0 0 1 244.98,538.69Z" fill="#8c8c8c"/>
<path d="M233.00,535.30L245.00,538.63A12.45,12.45 0 0 1 244.81,539.23Z" fill="#b4b4b4"/>
<path d="M233.00,535.30L244.84,539.16A12.45,12.45 0 0 1 244.63,539.75Z" fill="#a0a0a0"/>
<path d="M233.00,535.30L244.65,539.69A12.45,12.45 0 0 1 244.41,540.27Z" fill="#8c8c8c"/>
<path d="M233.00,535.30L244.44,540.21A12.45,12.45 0 0 1 244.18,540.78Z" fill="#b4b4b4"/>
<path d="M233.00,535.30L244.21,540.73A12.45,12.45 0 0 1 243.92,541.28Z" fill="#a0a0a0"/>
<path d="M233.00,535.30L243.95,541.22A12.45,12.45 0 0 1 243.64,541.77Z" fill="#8c8c8c"/>
<path d="M233.00,535.30L243.67,541.71A12.45,12.45 0 0 1 243.34,542.24Z" fill="#b4b4b4"/>
<path d="M233.00,535.30L243.37,542.19A12.45,12.45 0 0 1 243.01,542.70Z" fill="#a0a0a0"/>
<path d="M233.00,535.30L243.05,542.65A12.45,12.45 0 0 1 242.67,543.14Z" fill="#8c8c8c"/>
<path d="M233.00,535.30L242.71,543.09A12.45,12.45 0 0 1 242.31,543.57Z" fill="#b4b4b4"/>
<path d="M233.00,535.30L242.35,543.52A12.45,12.45 0 0 1 241.92,543.98Z" fill="#a0a0a0"/>
<path d="M233.00,535.30L241.97,543.94A12.45,12.45 0 0 1 241.52,544.38Z" fill="#8c8c8c"/>
<path d="M233.00,535.30L241.57,544.33A12.45,12.45 0 0 1 241.10,544.75Z" fill="#b4b4b4"/>
<path d="M233.00,535.30L241.15,544.71A12.45,12.45 0 0 1 240.67,545.11Z" fill="#a0a0a0"/>
<path d="M233.00,535.30L240.72,545.07A12.45,12.45 0 0 1 240.22,545.44Z" fill="#8c8c8c"/>
<path d="M233.00,535.30L240.27,545.40A12.45,12.45 0 0 1 239.76,545.76Z" fill="#b4b4b4"/>
<path d="M233.00,535.30L239.81,545.72A12.45,12.45 0 0 1 239.28,546.05Z" fill="#a0a0a0"/>
<path d="M233.00,535.30L239.33,546.02A12.45,12.45 0 0 1 238.79,546.32Z" fill="#8c8c8c"/>
<path d="M241.5,544.9 L245.0,542.2 L245.0,543.7 L248.8,543.7 L248.8,546.1 L245.0,546.1 L245.0,547.6 Z" fill="#a8102c"/>
<path d="M289.50,534.60L302.00,534.60A12.50,12.50 0 0 1 301.96,535.54Z" fill="#a8a8a8"/>
<path d="M289.50,534.60L301.97,535.47A12.50,12.50 0 0 1 301.87,536.40Z" fill="#989898"/>
<path d="M289.50,534.60L301.88,536.34A12.50,12.50 0 0 1 301.71,537.26Z" fill="#a8a8a8"/>
<path d="M289.50,534.60L301.73,537.20A12.50,12.50 0 0 1 301.50,538.11Z" fill="#989898"/>
<path d="M289.50,534.60L301.52,538.05A12.50,12.50 0 0 1 301.22,538.94Z" fill="#a8a8a8"/>
<path d="M289.50,534.60L301.25,538.88A12.50,12.50 0 0 1 300.89,539.74Z" fill="#989898"/>
<path d="M289.50,534.60L300.92,539.68A12.50,12.50 0 0 1 300.51,540.53Z" fill="#a8a8a8"/>
<path d="M289.50,534.60L300.54,540.47A12.50,12.50 0 0 1 300.07,541.28Z" fill="#989898"/>
<path d="M289.50,534.60L300.10,541.22A12.50,12.50 0 0 1 299.57,542.00Z" fill="#a8a8a8"/>
<path d="M289.50,534.60L299.61,541.95A12.50,12.50 0 0 1 299.03,542.68Z" fill="#989898"/>
<path d="M289.50,534.60L299.08,542.63A12.50,12.50 0 0 1 298.67,543.09Z" fill="#c4c4c4"/>
<path d="M289.50,534.60L298.72,543.04A12.50,12.50 0 0 1 298.29,543.48Z" fill="#a7a7a7"/>
<path d="M289.50,534.60L298.34,543.44A12.50,12.50 0 0 1 297.90,543.86Z" fill="#8a8a8a"/>
<path d="M289.50,534.60L297.94,543.82A12.50,12.50 0 0 1 297.48,544.22Z" fill="#6d6d6d"/>
<path d="M289.50,534.60L297.53,544.18A12.50,12.50 0 0 1 297.06,544.56Z" fill="#c4c4c4"/>
<path d="M289.50,534.60L297.11,544.52A12.50,12.50 0 0 1 296.62,544.88Z" fill="#a7a7a7"/>
<path d="M289.50,534.60L296.67,544.84A12.50,12.50 0 0 1 296.16,545.18Z" fill="#8a8a8a"/>
<path d="M289.50,534.60L296.22,545.14A12.50,12.50 0 0 1 295.69,545.46Z" fill="#6d6d6d"/>
<path d="M289.50,534.60L295.75,545.43A12.50,12.50 0 0 1 295.21,545.72Z" fill="#c4c4c4"/>
<path d="M289.50,534.60L295.27,545.69A12.50,12.50 0 0 1 294.72,545.96Z" fill="#a7a7a7"/>
<path d="M289.50,534.60L294.78,545.93A12.50,12.50 0 0 1 294.22,546.17Z" fill="#8a8a8a"/>
<path d="M289.50,534.60L294.28,546.15A12.50,12.50 0 0 1 293.71,546.37Z" fill="#6d6d6d"/>
<path d="M289.50,534.60L293.78,546.35A12.50,12.50 0 0 1 292.27,546.79Z" fill="#ebebeb"/>
<path d="M289.50,534.60L292.34,546.77A12.50,12.50 0 0 1 290.80,547.03Z" fill="#e2e2e2"/>
<path d="M289.50,534.60L290.86,547.03A12.50,12.50 0 0 1 289.30,547.10Z" fill="#d9d9d9"/>
<path d="M289.50,534.60L289.36,547.10A12.50,12.50 0 0 1 287.80,546.98Z" fill="#cfcfcf"/>
<path d="M289.50,534.60L287.87,546.99A12.50,12.50 0 0 1 286.33,546.69Z" fill="#c6c6c6"/>
<path d="M289.50,534.60L286.40,546.71A12.50,12.50 0 0 1 284.91,546.23Z" fill="#bcbcbc"/>
<path d="M289.50,534.60L284.97,546.25A12.50,12.50 0 0 1 283.55,545.59Z" fill="#b3b3b3"/>
<path d="M289.50,534.60L283.61,545.62A12.50,12.50 0 0 1 282.28,544.80Z" fill="#aaaaaa"/>
<path d="M289.50,534.60L282.33,544.84A12.50,12.50 0 0 1 279.02,541.41Z" fill="#5aa63a"/>
<path d="M289.50,534.60L279.02,541.41A12.50,12.50 0 0 1 283.71,523.52Z" fill="#c83719"/>
<path d="M289.50,534.60L283.71,523.52A12.50,12.50 0 0 1 302.00,534.60Z" fill="#fce923"/>
<circle cx="317.30" cy="534.60" r="12.60" fill="#c83719"/>
<path d="M317.30,534.60L329.85,535.70A12.60,12.60 0 0 1 329.71,536.79Z" fill="#b8b8b8"/>
<path d="M317.30,534.60L329.71,536.79A12.60,12.60 0 0 1 329.58,537.43Z" fill="#f0f0f0"/>
<path d="M317.30,534.60L329.58,537.43A12.60,12.60 0 0 1 326.81,542.87Z" fill="#fce923"/>
<text x="317.40" y="530.40" font-size="8.4" text-anchor="middle" fill="#1a0a05" transform="translate(317.40 530.40) scale(0.86 1) translate(-317.40 -530.40)" >LN</text>
<polyline points="239.20,434.00 240.20,436.00 241.50,432.80 249.60,429.00 259.00,428.30 266.20,431.40 272.70,429.80 279.70,431.90 287.10,432.50 292.80,433.20 299.10,431.90 304.00,429.80 310.90,429.20 311.50,422.80 311.80,427.00" fill="none" stroke="#5cb546" stroke-width="1.0" stroke-linejoin="round"/>
<rect x="237.76" y="432.56" width="2.88" height="2.88" fill="#4aa02e"/>
<rect x="238.76" y="434.56" width="2.88" height="2.88" fill="#4aa02e"/>
<rect x="240.06" y="431.36" width="2.88" height="2.88" fill="#4aa02e"/>
<rect x="248.16" y="427.56" width="2.88" height="2.88" fill="#4aa02e"/>
<rect x="257.56" y="426.86" width="2.88" height="2.88" fill="#4aa02e"/>
<rect x="264.76" y="429.96" width="2.88" height="2.88" fill="#4aa02e"/>
<rect x="271.26" y="428.36" width="2.88" height="2.88" fill="#4aa02e"/>
<rect x="278.26" y="430.46" width="2.88" height="2.88" fill="#4aa02e"/>
<rect x="285.66" y="431.06" width="2.88" height="2.88" fill="#4aa02e"/>
<rect x="291.36" y="431.76" width="2.88" height="2.88" fill="#4aa02e"/>
<rect x="297.66" y="430.46" width="2.88" height="2.88" fill="#4aa02e"/>
<rect x="302.56" y="428.36" width="2.88" height="2.88" fill="#4aa02e"/>
<rect x="309.46" y="427.76" width="2.88" height="2.88" fill="#4aa02e"/>
<rect x="310.06" y="421.36" width="2.88" height="2.88" fill="#4aa02e"/>
<rect x="310.36" y="425.56" width="2.88" height="2.88" fill="#4aa02e"/>
<polyline points="266.20,460.20 272.70,464.40 279.70,470.30 287.10,462.00 292.80,462.60 299.10,437.70 304.00,458.40 310.50,427.40 311.50,436.40" fill="none" stroke="#c4284f" stroke-width="1.0" stroke-linejoin="round"/>
<path d="M266.20,458.67L267.73,461.42L264.67,461.42Z" fill="#b0102c"/>
<path d="M272.70,462.87L274.23,465.62L271.17,465.62Z" fill="#b0102c"/>
<path d="M279.70,468.77L281.23,471.52L278.17,471.52Z" fill="#b0102c"/>
<path d="M287.10,460.47L288.63,463.22L285.57,463.22Z" fill="#b0102c"/>
<path d="M292.80,461.07L294.33,463.82L291.27,463.82Z" fill="#b0102c"/>
<path d="M299.10,436.17L300.63,438.92L297.57,438.92Z" fill="#b0102c"/>
<path d="M304.00,456.87L305.53,459.62L302.47,459.62Z" fill="#b0102c"/>
<path d="M310.50,425.87L312.03,428.62L308.97,428.62Z" fill="#b0102c"/>
<path d="M311.50,434.87L313.03,437.62L309.97,437.62Z" fill="#b0102c"/>
<polyline points="266.20,428.30 272.70,423.80 279.70,424.20 287.10,419.30 292.80,418.10 299.10,422.00 304.00,414.80 310.90,415.40" fill="none" stroke="#1c3a7e" stroke-width="1.0" stroke-linejoin="round"/>
<rect x="265.00" y="427.10" width="2.40" height="2.40" fill="#1c3a7e"/>
<rect x="271.50" y="422.60" width="2.40" height="2.40" fill="#1c3a7e"/>
<rect x="278.50" y="423.00" width="2.40" height="2.40" fill="#1c3a7e"/>
<rect x="285.90" y="418.10" width="2.40" height="2.40" fill="#1c3a7e"/>
<rect x="291.60" y="416.90" width="2.40" height="2.40" fill="#1c3a7e"/>
<rect x="297.90" y="420.80" width="2.40" height="2.40" fill="#1c3a7e"/>
<rect x="302.80" y="413.60" width="2.40" height="2.40" fill="#1c3a7e"/>
<rect x="309.70" y="414.20" width="2.40" height="2.40" fill="#1c3a7e"/>
<text x="440.75" y="405.70" font-size="10" text-anchor="middle" fill="#231f20" >L2</text>
<line x1="399.50" y1="412.50" x2="399.50" y2="483.80" stroke="#1a1a1a" stroke-width="1.4" />
<line x1="396.30" y1="415.50" x2="399.50" y2="415.50" stroke="#1a1a1a" stroke-width="1.0" />
<text x="393.90" y="418.50" font-size="8.5" text-anchor="end" fill="#231f20" transform="translate(393.90 418.50) scale(0.93 1) translate(-393.90 -418.50)" >100</text>
<line x1="397.90" y1="424.96" x2="399.50" y2="424.96" stroke="#1a1a1a" stroke-width="0.7" />
<line x1="397.90" y1="422.58" x2="399.50" y2="422.58" stroke="#1a1a1a" stroke-width="0.7" />
<line x1="397.90" y1="420.89" x2="399.50" y2="420.89" stroke="#1a1a1a" stroke-width="0.7" />
<line x1="397.90" y1="419.58" x2="399.50" y2="419.58" stroke="#1a1a1a" stroke-width="0.7" />
<line x1="397.90" y1="418.50" x2="399.50" y2="418.50" stroke="#1a1a1a" stroke-width="0.7" />
<line x1="397.90" y1="417.60" x2="399.50" y2="417.60" stroke="#1a1a1a" stroke-width="0.7" />
<line x1="397.90" y1="416.81" x2="399.50" y2="416.81" stroke="#1a1a1a" stroke-width="0.7" />
<line x1="397.90" y1="416.12" x2="399.50" y2="416.12" stroke="#1a1a1a" stroke-width="0.7" />
<line x1="396.30" y1="429.04" x2="399.50" y2="429.04" stroke="#1a1a1a" stroke-width="1.0" />
<text x="393.90" y="432.04" font-size="8.5" text-anchor="end" fill="#231f20" transform="translate(393.90 432.04) scale(0.93 1) translate(-393.90 -432.04)" >10</text>
<line x1="397.90" y1="438.50" x2="399.50" y2="438.50" stroke="#1a1a1a" stroke-width="0.7" />
<line x1="397.90" y1="436.12" x2="399.50" y2="436.12" stroke="#1a1a1a" stroke-width="0.7" />
<line x1="397.90" y1="434.43" x2="399.50" y2="434.43" stroke="#1a1a1a" stroke-width="0.7" />
<line x1="397.90" y1="433.12" x2="399.50" y2="433.12" stroke="#1a1a1a" stroke-width="0.7" />
<line x1="397.90" y1="432.04" x2="399.50" y2="432.04" stroke="#1a1a1a" stroke-width="0.7" />
<line x1="397.90" y1="431.14" x2="399.50" y2="431.14" stroke="#1a1a1a" stroke-width="0.7" />
<line x1="397.90" y1="430.35" x2="399.50" y2="430.35" stroke="#1a1a1a" stroke-width="0.7" />
<line x1="397.90" y1="429.66" x2="399.50" y2="429.66" stroke="#1a1a1a" stroke-width="0.7" />
<line x1="396.30" y1="442.58" x2="399.50" y2="442.58" stroke="#1a1a1a" stroke-width="1.0" />
<text x="393.90" y="445.58" font-size="8.5" text-anchor="end" fill="#231f20" transform="translate(393.90 445.58) scale(0.93 1) translate(-393.90 -445.58)" >1</text>
<line x1="397.90" y1="452.04" x2="399.50" y2="452.04" stroke="#1a1a1a" stroke-width="0.7" />
<line x1="397.90" y1="449.66" x2="399.50" y2="449.66" stroke="#1a1a1a" stroke-width="0.7" />
<line x1="397.90" y1="447.97" x2="399.50" y2="447.97" stroke="#1a1a1a" stroke-width="0.7" />
<line x1="397.90" y1="446.66" x2="399.50" y2="446.66" stroke="#1a1a1a" stroke-width="0.7" />
<line x1="397.90" y1="445.58" x2="399.50" y2="445.58" stroke="#1a1a1a" stroke-width="0.7" />
<line x1="397.90" y1="444.68" x2="399.50" y2="444.68" stroke="#1a1a1a" stroke-width="0.7" />
<line x1="397.90" y1="443.89" x2="399.50" y2="443.89" stroke="#1a1a1a" stroke-width="0.7" />
<line x1="397.90" y1="443.20" x2="399.50" y2="443.20" stroke="#1a1a1a" stroke-width="0.7" />
<line x1="396.30" y1="456.12" x2="399.50" y2="456.12" stroke="#1a1a1a" stroke-width="1.0" />
<text x="393.90" y="459.12" font-size="8.5" text-anchor="end" fill="#231f20" transform="translate(393.90 459.12) scale(0.93 1) translate(-393.90 -459.12)" >0.1</text>
<line x1="397.90" y1="465.58" x2="399.50" y2="465.58" stroke="#1a1a1a" stroke-width="0.7" />
<line x1="397.90" y1="463.20" x2="399.50" y2="463.20" stroke="#1a1a1a" stroke-width="0.7" />
<line x1="397.90" y1="461.51" x2="399.50" y2="461.51" stroke="#1a1a1a" stroke-width="0.7" />
<line x1="397.90" y1="460.20" x2="399.50" y2="460.20" stroke="#1a1a1a" stroke-width="0.7" />
<line x1="397.90" y1="459.12" x2="399.50" y2="459.12" stroke="#1a1a1a" stroke-width="0.7" />
<line x1="397.90" y1="458.22" x2="399.50" y2="458.22" stroke="#1a1a1a" stroke-width="0.7" />
<line x1="397.90" y1="457.43" x2="399.50" y2="457.43" stroke="#1a1a1a" stroke-width="0.7" />
<line x1="397.90" y1="456.74" x2="399.50" y2="456.74" stroke="#1a1a1a" stroke-width="0.7" />
<line x1="396.30" y1="469.66" x2="399.50" y2="469.66" stroke="#1a1a1a" stroke-width="1.0" />
<text x="393.90" y="472.66" font-size="8.5" text-anchor="end" fill="#231f20" transform="translate(393.90 472.66) scale(0.93 1) translate(-393.90 -472.66)" >0.01</text>
<line x1="397.90" y1="479.12" x2="399.50" y2="479.12" stroke="#1a1a1a" stroke-width="0.7" />
<line x1="397.90" y1="476.74" x2="399.50" y2="476.74" stroke="#1a1a1a" stroke-width="0.7" />
<line x1="397.90" y1="475.05" x2="399.50" y2="475.05" stroke="#1a1a1a" stroke-width="0.7" />
<line x1="397.90" y1="473.74" x2="399.50" y2="473.74" stroke="#1a1a1a" stroke-width="0.7" />
<line x1="397.90" y1="472.66" x2="399.50" y2="472.66" stroke="#1a1a1a" stroke-width="0.7" />
<line x1="397.90" y1="471.76" x2="399.50" y2="471.76" stroke="#1a1a1a" stroke-width="0.7" />
<line x1="397.90" y1="470.97" x2="399.50" y2="470.97" stroke="#1a1a1a" stroke-width="0.7" />
<line x1="397.90" y1="470.28" x2="399.50" y2="470.28" stroke="#1a1a1a" stroke-width="0.7" />
<line x1="396.30" y1="483.20" x2="399.50" y2="483.20" stroke="#1a1a1a" stroke-width="1.0" />
<text x="393.90" y="486.20" font-size="8.5" text-anchor="end" fill="#231f20" transform="translate(393.90 486.20) scale(0.93 1) translate(-393.90 -486.20)" >0.001</text>
<text x="357.70" y="446.90" font-size="9.6" text-anchor="middle" fill="#231f20" textLength="69" lengthAdjust="spacingAndGlyphs" transform="rotate(-90 357.70 446.90)" >Absolute abundance</text>
<text x="369.00" y="446.90" font-size="9.6" text-anchor="middle" fill="#231f20" textLength="54.5" lengthAdjust="spacingAndGlyphs" transform="rotate(-90 369.00 446.90)" >(per 100 PBMC)</text>
<line x1="482.00" y1="410.00" x2="482.00" y2="483.80" stroke="#1a1a1a" stroke-width="1.4" />
<line x1="482.00" y1="483.20" x2="485.00" y2="483.20" stroke="#1a1a1a" stroke-width="1.0" />
<text x="488.00" y="486.20" font-size="8.5" text-anchor="start" fill="#231f20" transform="translate(488.00 486.20) scale(0.92 1) translate(-488.00 -486.20)" >0.0</text>
<line x1="482.00" y1="469.16" x2="485.00" y2="469.16" stroke="#1a1a1a" stroke-width="1.0" />
<text x="488.00" y="472.16" font-size="8.5" text-anchor="start" fill="#231f20" transform="translate(488.00 472.16) scale(0.92 1) translate(-488.00 -472.16)" >0.2</text>
<line x1="482.00" y1="455.12" x2="485.00" y2="455.12" stroke="#1a1a1a" stroke-width="1.0" />
<text x="488.00" y="458.12" font-size="8.5" text-anchor="start" fill="#231f20" transform="translate(488.00 458.12) scale(0.92 1) translate(-488.00 -458.12)" >0.4</text>
<line x1="482.00" y1="441.08" x2="485.00" y2="441.08" stroke="#1a1a1a" stroke-width="1.0" />
<text x="488.00" y="444.08" font-size="8.5" text-anchor="start" fill="#231f20" transform="translate(488.00 444.08) scale(0.92 1) translate(-488.00 -444.08)" >0.6</text>
<line x1="482.00" y1="427.04" x2="485.00" y2="427.04" stroke="#1a1a1a" stroke-width="1.0" />
<text x="488.00" y="430.04" font-size="8.5" text-anchor="start" fill="#231f20" transform="translate(488.00 430.04) scale(0.92 1) translate(-488.00 -430.04)" >0.8</text>
<line x1="482.00" y1="413.00" x2="485.00" y2="413.00" stroke="#1a1a1a" stroke-width="1.0" />
<text x="488.00" y="416.00" font-size="8.5" text-anchor="start" fill="#231f20" transform="translate(488.00 416.00) scale(0.92 1) translate(-488.00 -416.00)" >1.0</text>
<text x="505.00" y="447.10" font-size="10.6" text-anchor="middle" fill="#231f20" textLength="12.3" lengthAdjust="spacingAndGlyphs" transform="rotate(90 505.00 447.10)" >OCI</text>
<line x1="398.80" y1="483.20" x2="482.70" y2="483.20" stroke="#1a1a1a" stroke-width="1.4" />
<line x1="399.40" y1="483.20" x2="399.40" y2="486.40" stroke="#1a1a1a" stroke-width="1.0" />
<text x="399.40" y="496.90" font-size="8.5" text-anchor="middle" fill="#231f20" >-3</text>
<line x1="426.80" y1="483.20" x2="426.80" y2="486.40" stroke="#1a1a1a" stroke-width="1.0" />
<text x="426.80" y="496.90" font-size="8.5" text-anchor="middle" fill="#231f20" >-2</text>
<line x1="454.20" y1="483.20" x2="454.20" y2="486.40" stroke="#1a1a1a" stroke-width="1.0" />
<text x="454.20" y="496.90" font-size="8.5" text-anchor="middle" fill="#231f20" >-1</text>
<line x1="481.60" y1="483.20" x2="481.60" y2="486.40" stroke="#1a1a1a" stroke-width="1.0" />
<text x="481.60" y="496.90" font-size="8.5" text-anchor="middle" fill="#231f20" >0</text>
<line x1="403.97" y1="483.20" x2="403.97" y2="485.20" stroke="#1a1a1a" stroke-width="0.9" />
<line x1="408.53" y1="483.20" x2="408.53" y2="485.20" stroke="#1a1a1a" stroke-width="0.9" />
<line x1="413.10" y1="483.20" x2="413.10" y2="485.20" stroke="#1a1a1a" stroke-width="0.9" />
<line x1="417.67" y1="483.20" x2="417.67" y2="485.20" stroke="#1a1a1a" stroke-width="0.9" />
<line x1="422.23" y1="483.20" x2="422.23" y2="485.20" stroke="#1a1a1a" stroke-width="0.9" />
<line x1="431.37" y1="483.20" x2="431.37" y2="485.20" stroke="#1a1a1a" stroke-width="0.9" />
<line x1="435.93" y1="483.20" x2="435.93" y2="485.20" stroke="#1a1a1a" stroke-width="0.9" />
<line x1="440.50" y1="483.20" x2="440.50" y2="485.20" stroke="#1a1a1a" stroke-width="0.9" />
<line x1="445.07" y1="483.20" x2="445.07" y2="485.20" stroke="#1a1a1a" stroke-width="0.9" />
<line x1="449.63" y1="483.20" x2="449.63" y2="485.20" stroke="#1a1a1a" stroke-width="0.9" />
<line x1="458.77" y1="483.20" x2="458.77" y2="485.20" stroke="#1a1a1a" stroke-width="0.9" />
<line x1="463.33" y1="483.20" x2="463.33" y2="485.20" stroke="#1a1a1a" stroke-width="0.9" />
<line x1="467.90" y1="483.20" x2="467.90" y2="485.20" stroke="#1a1a1a" stroke-width="0.9" />
<line x1="472.47" y1="483.20" x2="472.47" y2="485.20" stroke="#1a1a1a" stroke-width="0.9" />
<line x1="477.03" y1="483.20" x2="477.03" y2="485.20" stroke="#1a1a1a" stroke-width="0.9" />
<text x="440.75" y="509.60" font-size="9.2" text-anchor="middle" fill="#231f20" textLength="74.3" lengthAdjust="spacingAndGlyphs" >Years before diagnosis</text>
<line x1="416.30" y1="520.00" x2="436.50" y2="483.20" stroke="#9ccbef" stroke-width="0.8" />
<line x1="477.90" y1="520.00" x2="481.70" y2="483.20" stroke="#9ccbef" stroke-width="0.8" />
<path d="M419.30,532.30L431.80,532.30A12.50,12.50 0 0 1 431.73,533.59Z" fill="#a9a9a9"/>
<path d="M419.30,532.30L431.74,533.53A12.50,12.50 0 0 1 431.55,534.80Z" fill="#b0b0b0"/>
<path d="M419.30,532.30L431.56,534.74A12.50,12.50 0 0 1 431.24,535.99Z" fill="#a9a9a9"/>
<path d="M419.30,532.30L431.26,535.93A12.50,12.50 0 0 1 430.82,537.14Z" fill="#b0b0b0"/>
<path d="M419.30,532.30L430.85,537.08A12.50,12.50 0 0 1 430.29,538.25Z" fill="#a9a9a9"/>
<path d="M419.30,532.30L430.32,538.19A12.50,12.50 0 0 1 429.66,539.30Z" fill="#b0b0b0"/>
<path d="M419.30,532.30L429.69,539.24A12.50,12.50 0 0 1 428.92,540.28Z" fill="#a9a9a9"/>
<path d="M419.30,532.30L428.96,540.23A12.50,12.50 0 0 1 428.09,541.18Z" fill="#b0b0b0"/>
<path d="M419.30,532.30L428.14,541.14A12.50,12.50 0 0 1 427.18,542.00Z" fill="#a9a9a9"/>
<path d="M419.30,532.30L427.23,541.96A12.50,12.50 0 0 1 426.19,542.73Z" fill="#b0b0b0"/>
<path d="M419.30,532.30L426.24,542.69A12.50,12.50 0 0 1 425.13,543.35Z" fill="#a9a9a9"/>
<path d="M419.30,532.30L425.19,543.32A12.50,12.50 0 0 1 424.02,543.87Z" fill="#b0b0b0"/>
<path d="M419.30,532.30L424.08,543.85A12.50,12.50 0 0 1 422.87,544.28Z" fill="#a9a9a9"/>
<path d="M419.30,532.30L422.93,544.26A12.50,12.50 0 0 1 421.67,544.57Z" fill="#b0b0b0"/>
<path d="M419.30,532.30L421.74,544.56A12.50,12.50 0 0 1 420.46,544.75Z" fill="#a9a9a9"/>
<path d="M419.30,532.30L420.53,544.74A12.50,12.50 0 0 1 419.23,544.80Z" fill="#b0b0b0"/>
<path d="M419.30,532.30L419.30,544.80A12.50,12.50 0 0 1 418.60,544.78Z" fill="#848484"/>
<path d="M419.30,532.30L418.66,544.78A12.50,12.50 0 0 1 417.96,544.73Z" fill="#9c9c9c"/>
<path d="M419.30,532.30L418.03,544.74A12.50,12.50 0 0 1 417.33,544.64Z" fill="#b3b3b3"/>
<path d="M419.30,532.30L417.40,544.65A12.50,12.50 0 0 1 416.71,544.53Z" fill="#cbcbcb"/>
<path d="M419.30,532.30L416.77,544.54A12.50,12.50 0 0 1 416.09,544.38Z" fill="#848484"/>
<path d="M419.30,532.30L416.15,544.40A12.50,12.50 0 0 1 415.48,544.20Z" fill="#9c9c9c"/>
<path d="M419.30,532.30L415.54,544.22A12.50,12.50 0 0 1 414.88,543.99Z" fill="#b3b3b3"/>
<path d="M419.30,532.30L414.94,544.01A12.50,12.50 0 0 1 414.29,543.75Z" fill="#cbcbcb"/>
<path d="M419.30,532.30L414.35,543.78A12.50,12.50 0 0 1 413.71,543.48Z" fill="#848484"/>
<path d="M419.30,532.30L413.77,543.51A12.50,12.50 0 0 1 413.15,543.18Z" fill="#9c9c9c"/>
<path d="M419.30,532.30L413.21,543.22A12.50,12.50 0 0 1 412.61,542.86Z" fill="#b3b3b3"/>
<path d="M419.30,532.30L412.66,542.89A12.50,12.50 0 0 1 412.08,542.50Z" fill="#cbcbcb"/>
<path d="M419.30,532.30L412.13,542.54A12.50,12.50 0 0 1 411.57,542.12Z" fill="#848484"/>
<path d="M419.30,532.30L411.62,542.16A12.50,12.50 0 0 1 411.08,541.71Z" fill="#9c9c9c"/>
<path d="M419.30,532.30L411.13,541.76A12.50,12.50 0 0 1 410.61,541.28Z" fill="#b3b3b3"/>
<path d="M419.30,532.30L410.66,541.33A12.50,12.50 0 0 1 410.16,540.83Z" fill="#cbcbcb"/>
<path d="M419.30,532.30L410.21,540.88A12.50,12.50 0 0 1 409.74,540.35Z" fill="#848484"/>
<path d="M419.30,532.30L409.78,540.40A12.50,12.50 0 0 1 409.34,539.86Z" fill="#9c9c9c"/>
<path d="M419.30,532.30L409.38,539.91A12.50,12.50 0 0 1 408.97,539.34Z" fill="#b3b3b3"/>
<path d="M419.30,532.30L409.01,539.40A12.50,12.50 0 0 1 408.63,538.81Z" fill="#cbcbcb"/>
<path d="M419.30,532.30L408.66,538.86A12.50,12.50 0 0 1 408.31,538.25Z" fill="#848484"/>
<path d="M419.30,532.30L408.34,538.31A12.50,12.50 0 0 1 408.02,537.69Z" fill="#9c9c9c"/>
<path d="M419.30,532.30L408.05,537.75A12.50,12.50 0 0 1 407.76,537.11Z" fill="#b3b3b3"/>
<path d="M419.30,532.30L407.79,537.17A12.50,12.50 0 0 1 407.53,536.51Z" fill="#cbcbcb"/>
<path d="M419.30,532.30L407.55,536.58A12.50,12.50 0 0 1 407.33,535.91Z" fill="#848484"/>
<path d="M419.30,532.30L407.35,535.97A12.50,12.50 0 0 1 407.16,535.30Z" fill="#9c9c9c"/>
<path d="M419.30,532.30L407.18,535.36A12.50,12.50 0 0 1 407.03,534.67Z" fill="#b3b3b3"/>
<path d="M419.30,532.30L407.04,534.74A12.50,12.50 0 0 1 406.92,534.05Z" fill="#cbcbcb"/>
<path d="M419.30,532.30L406.93,534.11A12.50,12.50 0 0 1 406.85,533.41Z" fill="#848484"/>
<path d="M419.30,532.30L406.86,533.48A12.50,12.50 0 0 1 406.81,532.78Z" fill="#9c9c9c"/>
<path d="M419.30,532.30L406.81,532.85A12.50,12.50 0 0 1 406.80,532.14Z" fill="#b3b3b3"/>
<path d="M419.30,532.30L406.80,532.21A12.50,12.50 0 0 1 406.83,531.51Z" fill="#cbcbcb"/>
<path d="M419.30,532.30L406.82,531.57A12.50,12.50 0 0 1 406.88,530.87Z" fill="#848484"/>
<path d="M419.30,532.30L406.87,530.94A12.50,12.50 0 0 1 406.97,530.24Z" fill="#9c9c9c"/>
<path d="M419.30,532.30L406.96,530.31A12.50,12.50 0 0 1 407.09,529.62Z" fill="#b3b3b3"/>
<path d="M419.30,532.30L407.08,529.68A12.50,12.50 0 0 1 407.24,529.00Z" fill="#cbcbcb"/>
<path d="M419.30,532.30L407.23,529.06A12.50,12.50 0 0 1 407.63,527.82Z" fill="#f2f2f2"/>
<path d="M419.30,532.30L407.63,527.82A12.50,12.50 0 0 1 408.20,526.54Z" fill="#e6e6e6"/>
<path d="M419.30,532.30L408.17,526.60A12.50,12.50 0 0 1 408.88,525.39Z" fill="#dddddd"/>
<path d="M419.30,532.30L408.85,525.45A12.50,12.50 0 0 1 409.68,524.32Z" fill="#d4d4d4"/>
<path d="M419.30,532.30L409.64,524.37A12.50,12.50 0 0 1 410.59,523.34Z" fill="#cacaca"/>
<path d="M419.30,532.30L410.54,523.38A12.50,12.50 0 0 1 411.59,522.46Z" fill="#c1c1c1"/>
<path d="M419.30,532.30L411.54,522.50A12.50,12.50 0 0 1 412.69,521.69Z" fill="#b7b7b7"/>
<path d="M419.30,532.30L412.63,521.73A12.50,12.50 0 0 1 413.85,521.05Z" fill="#aeaeae"/>
<path d="M419.30,532.30L413.80,521.08A12.50,12.50 0 0 1 415.09,520.53Z" fill="#a5a5a5"/>
<path d="M419.30,532.30L415.02,520.55A12.50,12.50 0 0 1 416.58,520.10Z" fill="#a2a2a2"/>
<path d="M419.30,532.30L416.51,520.11A12.50,12.50 0 0 1 418.11,519.86Z" fill="#9d9d9d"/>
<path d="M419.30,532.30L418.05,519.86A12.50,12.50 0 0 1 419.67,519.81Z" fill="#979797"/>
<path d="M419.30,532.30L419.60,519.80A12.50,12.50 0 0 1 421.21,519.95Z" fill="#919191"/>
<path d="M419.30,532.30L421.15,519.94A12.50,12.50 0 0 1 422.73,520.28Z" fill="#8c8c8c"/>
<path d="M419.30,532.30L422.67,520.26A12.50,12.50 0 0 1 424.19,520.80Z" fill="#868686"/>
<path d="M419.30,532.30L424.13,520.77A12.50,12.50 0 0 1 425.58,521.49Z" fill="#808080"/>
<path d="M419.30,532.30L425.53,521.46A12.50,12.50 0 0 1 426.87,522.36Z" fill="#7b7b7b"/>
<path d="M419.30,532.30L426.82,522.32A12.50,12.50 0 0 1 431.80,532.30Z" fill="#c83719"/>
<circle cx="477.10" cy="532.20" r="12.60" fill="#c83719"/>
<line x1="477.10" y1="532.20" x2="489.70" y2="532.20" stroke="#d98a7a" stroke-width="0.5" />
<text x="476.90" y="529.60" font-size="8.4" text-anchor="middle" fill="#1a0a05" transform="translate(476.90 529.60) scale(0.86 1) translate(-476.90 -529.60)" >LN</text>
<polyline points="424.20,431.90 440.80,431.30 454.00,431.30 467.60,430.20 481.40,428.50" fill="none" stroke="#5cb546" stroke-width="1.0" stroke-linejoin="round"/>
<rect x="422.76" y="430.46" width="2.88" height="2.88" fill="#4aa02e"/>
<rect x="439.36" y="429.86" width="2.88" height="2.88" fill="#4aa02e"/>
<rect x="452.56" y="429.86" width="2.88" height="2.88" fill="#4aa02e"/>
<rect x="466.16" y="428.76" width="2.88" height="2.88" fill="#4aa02e"/>
<rect x="479.96" y="427.06" width="2.88" height="2.88" fill="#4aa02e"/>
<rect x="480.16" y="422.86" width="2.88" height="2.88" fill="#4aa02e"/>
<polyline points="424.20,456.80 440.80,445.70 454.00,449.80 467.60,449.80 481.40,429.00" fill="none" stroke="#c4284f" stroke-width="1.0" stroke-linejoin="round"/>
<path d="M424.20,455.27L425.73,458.02L422.67,458.02Z" fill="#b0102c"/>
<path d="M440.80,444.17L442.33,446.92L439.27,446.92Z" fill="#b0102c"/>
<path d="M454.00,448.27L455.53,451.02L452.47,451.02Z" fill="#b0102c"/>
<path d="M467.60,448.27L469.13,451.02L466.07,451.02Z" fill="#b0102c"/>
<path d="M481.40,427.47L482.93,430.22L479.87,430.22Z" fill="#b0102c"/>
<circle cx="481.60" cy="419.00" r="1.44" fill="#b0102c"/>
<polyline points="440.80,439.40 481.40,413.00" fill="none" stroke="#1c3a7e" stroke-width="1.0" stroke-linejoin="round"/>
<path d="M440.80,440.93L442.33,438.18L439.27,438.18Z" fill="#1c3a7e"/>
<path d="M481.40,414.53L482.93,411.78L479.87,411.78Z" fill="#1c3a7e"/>
</svg>
<div id="frame"></div>
</div>
</body></html>
